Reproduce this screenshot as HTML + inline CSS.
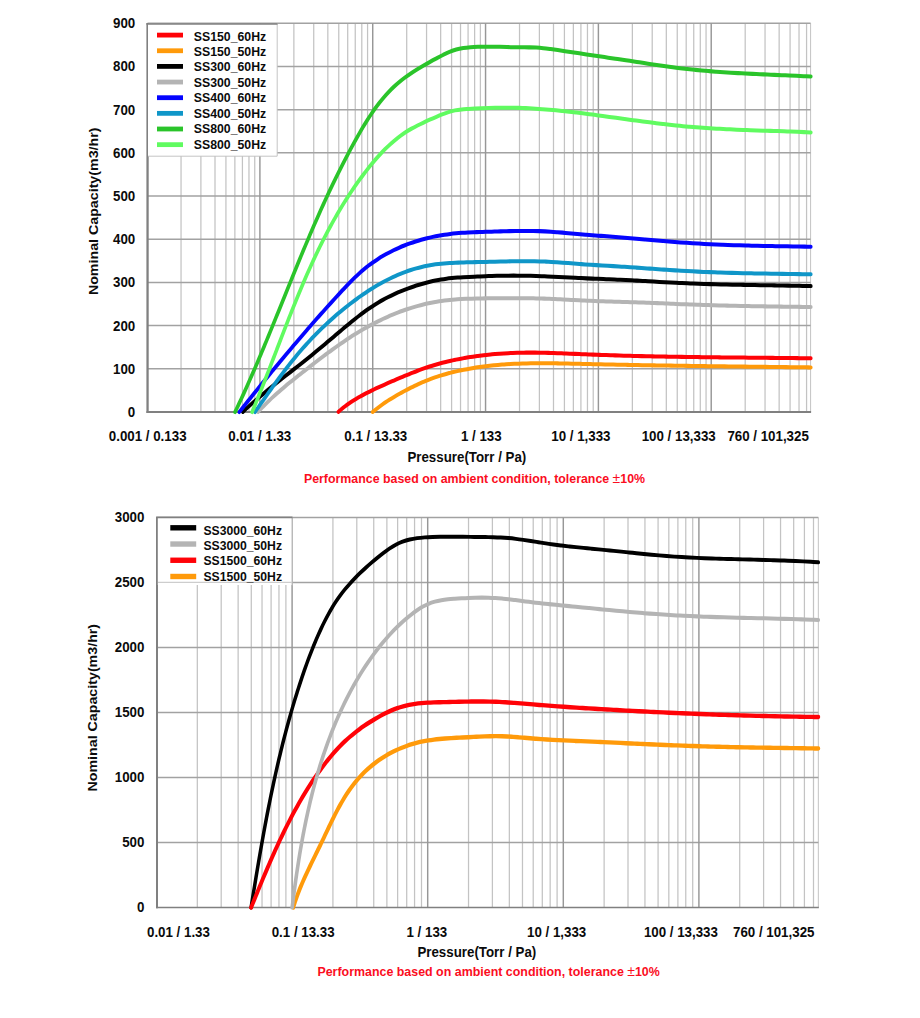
<!DOCTYPE html>
<html lang="en"><head><meta charset="utf-8"><title>Pump performance curves</title>
<style>html,body{margin:0;padding:0;background:#fff}svg{display:block}</style></head>
<body>
<svg width="920" height="1018" viewBox="0 0 920 1018" font-family="'Liberation Sans', sans-serif" font-weight="bold">
<rect width="920" height="1018" fill="#fff"/>
<g>
<line x1="181.04" x2="181.04" y1="23.30" y2="412.00" stroke="#c3c3c3" stroke-width="1.25"/>
<line x1="200.90" x2="200.90" y1="23.30" y2="412.00" stroke="#c3c3c3" stroke-width="1.25"/>
<line x1="215.00" x2="215.00" y1="23.30" y2="412.00" stroke="#c3c3c3" stroke-width="1.25"/>
<line x1="225.93" x2="225.93" y1="23.30" y2="412.00" stroke="#c3c3c3" stroke-width="1.25"/>
<line x1="234.87" x2="234.87" y1="23.30" y2="412.00" stroke="#c3c3c3" stroke-width="1.25"/>
<line x1="242.42" x2="242.42" y1="23.30" y2="412.00" stroke="#c3c3c3" stroke-width="1.25"/>
<line x1="248.97" x2="248.97" y1="23.30" y2="412.00" stroke="#c3c3c3" stroke-width="1.25"/>
<line x1="254.74" x2="254.74" y1="23.30" y2="412.00" stroke="#c3c3c3" stroke-width="1.25"/>
<line x1="293.87" x2="293.87" y1="23.30" y2="412.00" stroke="#c3c3c3" stroke-width="1.25"/>
<line x1="313.73" x2="313.73" y1="23.30" y2="412.00" stroke="#c3c3c3" stroke-width="1.25"/>
<line x1="327.83" x2="327.83" y1="23.30" y2="412.00" stroke="#c3c3c3" stroke-width="1.25"/>
<line x1="338.76" x2="338.76" y1="23.30" y2="412.00" stroke="#c3c3c3" stroke-width="1.25"/>
<line x1="347.70" x2="347.70" y1="23.30" y2="412.00" stroke="#c3c3c3" stroke-width="1.25"/>
<line x1="355.25" x2="355.25" y1="23.30" y2="412.00" stroke="#c3c3c3" stroke-width="1.25"/>
<line x1="361.80" x2="361.80" y1="23.30" y2="412.00" stroke="#c3c3c3" stroke-width="1.25"/>
<line x1="367.57" x2="367.57" y1="23.30" y2="412.00" stroke="#c3c3c3" stroke-width="1.25"/>
<line x1="406.70" x2="406.70" y1="23.30" y2="412.00" stroke="#c3c3c3" stroke-width="1.25"/>
<line x1="426.56" x2="426.56" y1="23.30" y2="412.00" stroke="#c3c3c3" stroke-width="1.25"/>
<line x1="440.66" x2="440.66" y1="23.30" y2="412.00" stroke="#c3c3c3" stroke-width="1.25"/>
<line x1="451.59" x2="451.59" y1="23.30" y2="412.00" stroke="#c3c3c3" stroke-width="1.25"/>
<line x1="460.53" x2="460.53" y1="23.30" y2="412.00" stroke="#c3c3c3" stroke-width="1.25"/>
<line x1="468.08" x2="468.08" y1="23.30" y2="412.00" stroke="#c3c3c3" stroke-width="1.25"/>
<line x1="474.63" x2="474.63" y1="23.30" y2="412.00" stroke="#c3c3c3" stroke-width="1.25"/>
<line x1="480.40" x2="480.40" y1="23.30" y2="412.00" stroke="#c3c3c3" stroke-width="1.25"/>
<line x1="519.53" x2="519.53" y1="23.30" y2="412.00" stroke="#c3c3c3" stroke-width="1.25"/>
<line x1="539.39" x2="539.39" y1="23.30" y2="412.00" stroke="#c3c3c3" stroke-width="1.25"/>
<line x1="553.49" x2="553.49" y1="23.30" y2="412.00" stroke="#c3c3c3" stroke-width="1.25"/>
<line x1="564.42" x2="564.42" y1="23.30" y2="412.00" stroke="#c3c3c3" stroke-width="1.25"/>
<line x1="573.36" x2="573.36" y1="23.30" y2="412.00" stroke="#c3c3c3" stroke-width="1.25"/>
<line x1="580.91" x2="580.91" y1="23.30" y2="412.00" stroke="#c3c3c3" stroke-width="1.25"/>
<line x1="587.46" x2="587.46" y1="23.30" y2="412.00" stroke="#c3c3c3" stroke-width="1.25"/>
<line x1="593.23" x2="593.23" y1="23.30" y2="412.00" stroke="#c3c3c3" stroke-width="1.25"/>
<line x1="632.36" x2="632.36" y1="23.30" y2="412.00" stroke="#c3c3c3" stroke-width="1.25"/>
<line x1="652.22" x2="652.22" y1="23.30" y2="412.00" stroke="#c3c3c3" stroke-width="1.25"/>
<line x1="666.32" x2="666.32" y1="23.30" y2="412.00" stroke="#c3c3c3" stroke-width="1.25"/>
<line x1="677.25" x2="677.25" y1="23.30" y2="412.00" stroke="#c3c3c3" stroke-width="1.25"/>
<line x1="686.19" x2="686.19" y1="23.30" y2="412.00" stroke="#c3c3c3" stroke-width="1.25"/>
<line x1="693.74" x2="693.74" y1="23.30" y2="412.00" stroke="#c3c3c3" stroke-width="1.25"/>
<line x1="700.29" x2="700.29" y1="23.30" y2="412.00" stroke="#c3c3c3" stroke-width="1.25"/>
<line x1="706.06" x2="706.06" y1="23.30" y2="412.00" stroke="#c3c3c3" stroke-width="1.25"/>
<line x1="745.19" x2="745.19" y1="23.30" y2="412.00" stroke="#c3c3c3" stroke-width="1.25"/>
<line x1="765.05" x2="765.05" y1="23.30" y2="412.00" stroke="#c3c3c3" stroke-width="1.25"/>
<line x1="779.15" x2="779.15" y1="23.30" y2="412.00" stroke="#c3c3c3" stroke-width="1.25"/>
<line x1="790.08" x2="790.08" y1="23.30" y2="412.00" stroke="#c3c3c3" stroke-width="1.25"/>
<line x1="799.02" x2="799.02" y1="23.30" y2="412.00" stroke="#c3c3c3" stroke-width="1.25"/>
<line x1="806.57" x2="806.57" y1="23.30" y2="412.00" stroke="#c3c3c3" stroke-width="1.25"/>
<line x1="810.60" x2="810.60" y1="23.30" y2="412.00" stroke="#c3c3c3" stroke-width="1"/>
<line x1="147.50" x2="810.60" y1="23.30" y2="23.30" stroke="#a2a2a2" stroke-width="1.5"/>
<line x1="147.50" x2="810.60" y1="66.49" y2="66.49" stroke="#a2a2a2" stroke-width="1.5"/>
<line x1="147.50" x2="810.60" y1="109.68" y2="109.68" stroke="#a2a2a2" stroke-width="1.5"/>
<line x1="147.50" x2="810.60" y1="152.87" y2="152.87" stroke="#a2a2a2" stroke-width="1.5"/>
<line x1="147.50" x2="810.60" y1="196.06" y2="196.06" stroke="#a2a2a2" stroke-width="1.5"/>
<line x1="147.50" x2="810.60" y1="239.24" y2="239.24" stroke="#a2a2a2" stroke-width="1.5"/>
<line x1="147.50" x2="810.60" y1="282.43" y2="282.43" stroke="#a2a2a2" stroke-width="1.5"/>
<line x1="147.50" x2="810.60" y1="325.62" y2="325.62" stroke="#a2a2a2" stroke-width="1.5"/>
<line x1="147.50" x2="810.60" y1="368.81" y2="368.81" stroke="#a2a2a2" stroke-width="1.5"/>
<line x1="259.90" x2="259.90" y1="23.30" y2="412.00" stroke="#979797" stroke-width="1.45"/>
<line x1="372.73" x2="372.73" y1="23.30" y2="412.00" stroke="#979797" stroke-width="1.45"/>
<line x1="485.56" x2="485.56" y1="23.30" y2="412.00" stroke="#979797" stroke-width="1.45"/>
<line x1="598.39" x2="598.39" y1="23.30" y2="412.00" stroke="#979797" stroke-width="1.45"/>
<line x1="711.22" x2="711.22" y1="23.30" y2="412.00" stroke="#979797" stroke-width="1.45"/>
</g>
<line x1="147.55" x2="147.55" y1="23.00" y2="413.00" stroke="#808080" stroke-width="2.3"/>
<line x1="146.5" x2="811.10" y1="411.9" y2="411.9" stroke="#808080" stroke-width="2"/>
<clipPath id="cp1"><rect x="140" y="0" width="674.60" height="416"/></clipPath>
<g clip-path="url(#cp1)"><g transform="scale(1,1.12)">
<path d="M338.40,367.69 C338.97,367.26 340.66,365.93 341.82,365.09 C342.97,364.25 344.14,363.43 345.33,362.64 C346.52,361.84 347.72,361.07 348.94,360.32 C350.15,359.56 351.38,358.83 352.62,358.12 C353.86,357.40 355.12,356.71 356.38,356.03 C357.65,355.35 358.92,354.69 360.21,354.04 C361.49,353.39 362.79,352.76 364.09,352.13 C365.40,351.51 366.71,350.91 368.03,350.31 C369.35,349.71 370.68,349.13 372.01,348.55 C373.34,347.97 374.68,347.40 376.02,346.84 C377.37,346.28 378.72,345.73 380.07,345.18 C381.42,344.64 382.78,344.09 384.13,343.56 C385.49,343.02 386.85,342.48 388.21,341.95 C389.57,341.42 390.93,340.89 392.30,340.36 C393.66,339.83 395.03,339.31 396.39,338.79 C397.76,338.27 399.13,337.75 400.49,337.23 C401.86,336.72 403.24,336.21 404.61,335.70 C405.98,335.20 407.35,334.69 408.73,334.20 C410.11,333.70 411.48,333.20 412.86,332.72 C414.24,332.23 415.62,331.74 417.01,331.27 C418.39,330.79 419.78,330.32 421.17,329.86 C422.56,329.40 423.95,328.95 425.35,328.51 C426.75,328.08 428.15,327.66 429.56,327.25 C430.96,326.84 432.38,326.45 433.80,326.07 C435.21,325.69 436.63,325.32 438.06,324.96 C439.49,324.61 440.92,324.27 442.35,323.94 C443.78,323.61 445.22,323.29 446.66,322.98 C448.10,322.67 449.54,322.37 450.99,322.08 C452.44,321.80 453.88,321.52 455.34,321.25 C456.79,320.98 458.24,320.72 459.70,320.47 C461.15,320.22 462.61,319.98 464.07,319.74 C465.53,319.51 466.99,319.29 468.46,319.07 C469.92,318.86 471.39,318.65 472.85,318.45 C474.32,318.26 475.79,318.07 477.26,317.89 C478.73,317.71 480.20,317.54 481.68,317.38 C483.15,317.21 484.63,317.06 486.10,316.91 C487.58,316.77 489.06,316.63 490.54,316.50 C492.02,316.37 493.49,316.25 494.98,316.13 C496.46,316.02 497.94,315.91 499.42,315.81 C500.90,315.71 502.38,315.62 503.87,315.54 C505.35,315.46 506.83,315.38 508.31,315.32 C509.80,315.25 511.28,315.19 512.77,315.13 C514.25,315.08 515.73,315.03 517.22,314.99 C518.70,314.96 520.19,314.92 521.67,314.90 C523.15,314.87 524.64,314.86 526.12,314.84 C527.60,314.83 529.08,314.83 530.57,314.83 C532.05,314.83 533.53,314.83 535.01,314.84 C536.50,314.85 537.98,314.87 539.46,314.89 C540.94,314.91 542.43,314.93 543.91,314.96 C545.39,314.99 546.87,315.02 548.35,315.06 C549.83,315.09 551.32,315.13 552.80,315.18 C554.28,315.22 555.76,315.26 557.24,315.31 C558.72,315.36 560.21,315.41 561.69,315.46 C563.17,315.51 564.65,315.57 566.13,315.62 C567.61,315.67 569.09,315.73 570.57,315.79 C572.06,315.84 573.54,315.90 575.02,315.96 C576.50,316.01 577.98,316.07 579.46,316.13 C580.94,316.19 582.43,316.24 583.91,316.30 C585.39,316.35 586.87,316.41 588.35,316.46 C589.83,316.51 591.32,316.57 592.80,316.62 C594.28,316.67 595.76,316.72 597.24,316.77 C598.72,316.82 600.21,316.87 601.69,316.91 C603.17,316.96 604.65,317.01 606.13,317.05 C607.62,317.10 609.10,317.14 610.58,317.18 C612.06,317.23 613.55,317.27 615.03,317.31 C616.51,317.35 617.99,317.39 619.47,317.43 C620.96,317.47 622.44,317.51 623.92,317.55 C625.40,317.58 626.89,317.62 628.37,317.66 C629.85,317.69 631.34,317.73 632.82,317.76 C634.30,317.80 635.78,317.83 637.27,317.86 C638.75,317.90 640.23,317.93 641.71,317.96 C643.20,317.99 644.68,318.02 646.16,318.05 C647.65,318.08 649.13,318.11 650.61,318.14 C652.09,318.17 653.58,318.19 655.06,318.22 C656.54,318.25 658.03,318.27 659.51,318.30 C660.99,318.33 662.48,318.35 663.96,318.38 C665.44,318.40 666.93,318.42 668.41,318.45 C669.89,318.47 671.38,318.49 672.86,318.52 C674.34,318.54 675.83,318.56 677.31,318.58 C678.79,318.60 680.27,318.62 681.76,318.64 C683.24,318.66 684.72,318.68 686.21,318.70 C687.69,318.72 689.18,318.74 690.66,318.76 C692.14,318.78 693.63,318.80 695.11,318.82 C696.59,318.83 698.08,318.85 699.56,318.87 C701.04,318.88 702.53,318.90 704.01,318.92 C705.49,318.93 706.98,318.95 708.46,318.96 C709.94,318.98 711.43,319.00 712.91,319.01 C714.39,319.03 715.88,319.04 717.36,319.05 C718.84,319.07 720.33,319.08 721.81,319.10 C723.29,319.11 724.78,319.12 726.26,319.14 C727.74,319.15 729.23,319.17 730.71,319.18 C732.20,319.19 733.68,319.21 735.16,319.22 C736.65,319.23 738.13,319.24 739.61,319.26 C741.10,319.27 742.58,319.28 744.06,319.29 C745.55,319.31 747.03,319.32 748.51,319.33 C750.00,319.34 751.48,319.36 752.96,319.37 C754.45,319.38 755.93,319.39 757.41,319.41 C758.90,319.42 760.38,319.43 761.86,319.44 C763.35,319.46 764.83,319.47 766.31,319.48 C767.80,319.49 769.28,319.51 770.76,319.52 C772.24,319.53 773.73,319.54 775.21,319.56 C776.69,319.57 778.18,319.58 779.66,319.60 C781.14,319.61 782.63,319.62 784.11,319.64 C785.59,319.65 787.08,319.66 788.56,319.68 C790.04,319.69 791.52,319.71 793.01,319.72 C794.49,319.73 795.97,319.75 797.46,319.76 C798.94,319.78 800.42,319.79 801.90,319.81 C803.39,319.83 804.87,319.84 806.35,319.86 C807.83,319.87 810.06,319.90 810.80,319.91" fill="none" stroke="#ff0207" stroke-width="3.6" stroke-linejoin="round" stroke-linecap="round"/>
<path d="M372.75,367.81 C373.28,367.42 374.86,366.25 375.93,365.49 C377.00,364.73 378.09,363.98 379.19,363.25 C380.29,362.52 381.40,361.80 382.52,361.09 C383.64,360.39 384.77,359.69 385.91,359.01 C387.05,358.33 388.20,357.66 389.36,357.00 C390.52,356.35 391.69,355.70 392.86,355.06 C394.04,354.42 395.22,353.80 396.41,353.18 C397.60,352.56 398.80,351.95 400.00,351.35 C401.20,350.75 402.40,350.16 403.61,349.57 C404.82,348.99 406.04,348.41 407.25,347.84 C408.47,347.27 409.69,346.71 410.92,346.16 C412.14,345.60 413.37,345.05 414.60,344.52 C415.84,343.98 417.07,343.46 418.32,342.94 C419.56,342.43 420.81,341.93 422.06,341.44 C423.32,340.95 424.57,340.47 425.84,340.01 C427.11,339.55 428.38,339.10 429.66,338.67 C430.93,338.24 432.22,337.82 433.51,337.41 C434.80,337.01 436.10,336.61 437.40,336.23 C438.70,335.85 440.01,335.48 441.32,335.13 C442.63,334.77 443.95,334.42 445.28,334.09 C446.60,333.75 447.93,333.43 449.26,333.11 C450.59,332.80 451.92,332.50 453.26,332.20 C454.60,331.91 455.94,331.63 457.28,331.35 C458.63,331.08 459.98,330.82 461.32,330.56 C462.67,330.31 464.02,330.06 465.38,329.83 C466.73,329.59 468.08,329.37 469.44,329.15 C470.79,328.94 472.14,328.73 473.50,328.53 C474.86,328.33 476.21,328.14 477.57,327.96 C478.93,327.78 480.28,327.61 481.64,327.44 C483.00,327.28 484.36,327.12 485.72,326.97 C487.08,326.82 488.44,326.68 489.80,326.55 C491.16,326.41 492.53,326.28 493.89,326.16 C495.25,326.04 496.61,325.93 497.98,325.83 C499.34,325.72 500.71,325.62 502.07,325.53 C503.44,325.44 504.80,325.35 506.17,325.27 C507.53,325.19 508.90,325.11 510.27,325.05 C511.63,324.98 513.00,324.91 514.37,324.86 C515.74,324.80 517.11,324.75 518.47,324.70 C519.84,324.65 521.21,324.61 522.58,324.57 C523.95,324.54 525.32,324.50 526.69,324.47 C528.06,324.45 529.43,324.42 530.81,324.40 C532.18,324.38 533.55,324.37 534.92,324.36 C536.29,324.34 537.66,324.34 539.04,324.33 C540.41,324.33 541.78,324.32 543.15,324.33 C544.53,324.33 545.90,324.33 547.27,324.34 C548.65,324.35 550.02,324.36 551.39,324.37 C552.77,324.38 554.14,324.40 555.51,324.41 C556.89,324.43 558.26,324.45 559.64,324.47 C561.01,324.49 562.38,324.51 563.76,324.54 C565.13,324.56 566.51,324.59 567.88,324.61 C569.26,324.64 570.63,324.67 572.00,324.69 C573.38,324.72 574.75,324.75 576.13,324.78 C577.50,324.81 578.88,324.84 580.25,324.87 C581.62,324.90 583.00,324.93 584.37,324.96 C585.75,324.98 587.12,325.01 588.49,325.04 C589.87,325.07 591.24,325.10 592.62,325.13 C593.99,325.16 595.36,325.18 596.74,325.21 C598.11,325.24 599.48,325.27 600.86,325.29 C602.23,325.32 603.60,325.35 604.98,325.37 C606.35,325.40 607.72,325.43 609.10,325.45 C610.47,325.48 611.84,325.50 613.21,325.53 C614.59,325.55 615.96,325.58 617.33,325.60 C618.71,325.63 620.08,325.65 621.45,325.68 C622.82,325.70 624.20,325.73 625.57,325.75 C626.94,325.77 628.31,325.80 629.68,325.82 C631.06,325.84 632.43,325.87 633.80,325.89 C635.17,325.91 636.55,325.94 637.92,325.96 C639.29,325.98 640.66,326.00 642.03,326.02 C643.41,326.05 644.78,326.07 646.15,326.09 C647.52,326.11 648.89,326.13 650.26,326.15 C651.64,326.17 653.01,326.19 654.38,326.22 C655.75,326.24 657.12,326.26 658.49,326.28 C659.87,326.30 661.24,326.32 662.61,326.34 C663.98,326.36 665.35,326.38 666.72,326.40 C668.09,326.42 669.47,326.43 670.84,326.45 C672.21,326.47 673.58,326.49 674.95,326.51 C676.32,326.53 677.69,326.55 679.07,326.57 C680.44,326.58 681.81,326.60 683.18,326.62 C684.55,326.64 685.92,326.66 687.29,326.68 C688.67,326.69 690.04,326.71 691.41,326.73 C692.78,326.75 694.15,326.76 695.52,326.78 C696.89,326.80 698.26,326.81 699.64,326.83 C701.01,326.85 702.38,326.87 703.75,326.88 C705.12,326.90 706.49,326.91 707.86,326.93 C709.24,326.95 710.61,326.96 711.98,326.98 C713.35,327.00 714.72,327.01 716.09,327.03 C717.46,327.04 718.84,327.06 720.21,327.08 C721.58,327.09 722.95,327.11 724.32,327.12 C725.69,327.14 727.06,327.15 728.44,327.17 C729.81,327.19 731.18,327.20 732.55,327.22 C733.92,327.23 735.29,327.25 736.67,327.26 C738.04,327.28 739.41,327.29 740.78,327.31 C742.15,327.32 743.52,327.34 744.90,327.35 C746.27,327.37 747.64,327.38 749.01,327.39 C750.38,327.41 751.76,327.42 753.13,327.44 C754.50,327.45 755.87,327.47 757.25,327.48 C758.62,327.50 759.99,327.51 761.36,327.53 C762.73,327.54 764.11,327.55 765.48,327.57 C766.85,327.58 768.22,327.60 769.60,327.61 C770.97,327.63 772.34,327.64 773.72,327.65 C775.09,327.67 776.46,327.68 777.83,327.70 C779.21,327.71 780.58,327.72 781.95,327.74 C783.33,327.75 784.70,327.77 786.07,327.78 C787.45,327.80 788.82,327.81 790.19,327.82 C791.57,327.84 792.94,327.85 794.31,327.87 C795.69,327.88 797.06,327.89 798.43,327.91 C799.81,327.92 801.18,327.94 802.56,327.95 C803.93,327.97 805.30,327.98 806.68,327.99 C808.05,328.01 810.11,328.03 810.80,328.04" fill="none" stroke="#ff9a0a" stroke-width="3.6" stroke-linejoin="round" stroke-linecap="round"/>
<path d="M257.96,367.82 C258.58,367.23 260.41,365.46 261.66,364.31 C262.91,363.15 264.17,362.01 265.45,360.88 C266.72,359.76 268.01,358.64 269.31,357.54 C270.61,356.44 271.92,355.34 273.25,354.26 C274.57,353.18 275.90,352.11 277.25,351.05 C278.59,349.99 279.95,348.94 281.31,347.90 C282.67,346.85 284.04,345.82 285.42,344.79 C286.79,343.76 288.18,342.74 289.57,341.73 C290.96,340.71 292.35,339.70 293.75,338.70 C295.15,337.69 296.56,336.69 297.97,335.69 C299.38,334.70 300.79,333.70 302.20,332.71 C303.62,331.72 305.03,330.73 306.45,329.74 C307.87,328.76 309.28,327.77 310.70,326.78 C312.12,325.80 313.54,324.81 314.97,323.83 C316.39,322.85 317.81,321.87 319.24,320.90 C320.67,319.92 322.10,318.95 323.53,317.98 C324.97,317.02 326.40,316.06 327.84,315.10 C329.29,314.14 330.73,313.19 332.19,312.25 C333.64,311.31 335.09,310.37 336.56,309.44 C338.02,308.51 339.49,307.59 340.97,306.68 C342.44,305.76 343.93,304.86 345.42,303.97 C346.91,303.07 348.41,302.19 349.91,301.32 C351.42,300.44 352.94,299.58 354.46,298.73 C355.98,297.88 357.52,297.04 359.06,296.22 C360.60,295.39 362.15,294.58 363.71,293.77 C365.26,292.97 366.83,292.19 368.40,291.41 C369.98,290.64 371.56,289.88 373.15,289.13 C374.74,288.39 376.34,287.66 377.95,286.94 C379.56,286.23 381.18,285.53 382.80,284.84 C384.43,284.16 386.06,283.49 387.70,282.84 C389.34,282.19 390.99,281.56 392.65,280.94 C394.30,280.33 395.97,279.73 397.64,279.15 C399.32,278.57 401.00,278.00 402.69,277.46 C404.38,276.92 406.08,276.39 407.78,275.89 C409.49,275.39 411.21,274.90 412.93,274.44 C414.65,273.97 416.38,273.53 418.11,273.11 C419.85,272.68 421.59,272.28 423.33,271.90 C425.08,271.52 426.83,271.16 428.59,270.82 C430.35,270.48 432.11,270.16 433.88,269.87 C435.65,269.58 437.42,269.30 439.19,269.05 C440.96,268.80 442.74,268.58 444.52,268.37 C446.30,268.17 448.09,267.98 449.87,267.82 C451.66,267.66 453.45,267.52 455.23,267.39 C457.02,267.26 458.81,267.16 460.61,267.06 C462.40,266.97 464.19,266.89 465.99,266.83 C467.78,266.76 469.58,266.70 471.38,266.66 C473.17,266.61 474.97,266.57 476.77,266.54 C478.57,266.50 480.37,266.48 482.16,266.45 C483.96,266.43 485.76,266.41 487.56,266.39 C489.36,266.36 491.16,266.34 492.95,266.32 C494.75,266.30 496.55,266.29 498.35,266.27 C500.14,266.26 501.94,266.24 503.74,266.23 C505.54,266.22 507.33,266.21 509.13,266.21 C510.93,266.20 512.72,266.20 514.52,266.20 C516.32,266.20 518.11,266.21 519.91,266.22 C521.71,266.23 523.50,266.24 525.30,266.26 C527.10,266.28 528.89,266.30 530.69,266.33 C532.48,266.35 534.28,266.39 536.07,266.43 C537.87,266.47 539.66,266.51 541.46,266.56 C543.25,266.61 545.05,266.67 546.84,266.73 C548.64,266.80 550.43,266.86 552.23,266.94 C554.02,267.01 555.82,267.08 557.61,267.16 C559.40,267.24 561.20,267.32 562.99,267.40 C564.79,267.48 566.58,267.57 568.37,267.65 C570.17,267.74 571.96,267.82 573.76,267.90 C575.55,267.99 577.34,268.07 579.14,268.15 C580.93,268.23 582.73,268.31 584.52,268.39 C586.32,268.46 588.11,268.54 589.91,268.60 C591.70,268.67 593.49,268.74 595.29,268.80 C597.08,268.86 598.88,268.92 600.67,268.98 C602.47,269.03 604.26,269.08 606.06,269.14 C607.85,269.19 609.65,269.23 611.45,269.28 C613.24,269.33 615.04,269.37 616.83,269.42 C618.63,269.46 620.42,269.51 622.22,269.56 C624.01,269.61 625.81,269.65 627.61,269.70 C629.40,269.75 631.20,269.80 632.99,269.85 C634.79,269.91 636.58,269.96 638.38,270.01 C640.17,270.07 641.97,270.12 643.76,270.18 C645.56,270.24 647.35,270.30 649.15,270.36 C650.95,270.42 652.74,270.48 654.54,270.55 C656.33,270.61 658.13,270.68 659.92,270.74 C661.72,270.81 663.51,270.88 665.31,270.95 C667.10,271.01 668.90,271.08 670.69,271.15 C672.49,271.22 674.28,271.29 676.08,271.36 C677.87,271.42 679.67,271.49 681.47,271.56 C683.26,271.62 685.06,271.69 686.85,271.75 C688.65,271.81 690.44,271.87 692.24,271.93 C694.03,271.99 695.83,272.04 697.63,272.10 C699.42,272.15 701.22,272.21 703.01,272.26 C704.81,272.31 706.60,272.36 708.40,272.41 C710.20,272.46 711.99,272.51 713.79,272.55 C715.58,272.60 717.38,272.64 719.18,272.69 C720.97,272.73 722.77,272.77 724.57,272.81 C726.36,272.85 728.16,272.89 729.95,272.93 C731.75,272.97 733.55,273.01 735.34,273.04 C737.14,273.08 738.94,273.11 740.73,273.15 C742.53,273.18 744.33,273.21 746.12,273.24 C747.92,273.28 749.71,273.31 751.51,273.34 C753.31,273.37 755.10,273.39 756.90,273.42 C758.70,273.45 760.49,273.48 762.29,273.51 C764.09,273.53 765.88,273.56 767.68,273.58 C769.48,273.61 771.27,273.63 773.07,273.66 C774.87,273.68 776.66,273.71 778.46,273.73 C780.26,273.75 782.05,273.77 783.85,273.80 C785.65,273.82 787.44,273.84 789.24,273.86 C791.04,273.88 792.83,273.90 794.63,273.92 C796.43,273.95 798.22,273.97 800.02,273.99 C801.82,274.01 803.61,274.03 805.41,274.05 C807.21,274.07 809.90,274.10 810.80,274.11" fill="none" stroke="#b4b4b4" stroke-width="3.6" stroke-linejoin="round" stroke-linecap="round"/>
<path d="M242.94,367.79 C243.62,367.22 245.65,365.48 247.02,364.34 C248.39,363.20 249.77,362.08 251.16,360.96 C252.55,359.84 253.94,358.73 255.35,357.63 C256.76,356.53 258.17,355.44 259.59,354.36 C261.01,353.27 262.44,352.20 263.88,351.13 C265.31,350.06 266.75,349.00 268.20,347.94 C269.64,346.88 271.09,345.83 272.55,344.78 C274.00,343.73 275.46,342.69 276.93,341.65 C278.39,340.61 279.85,339.57 281.32,338.54 C282.79,337.50 284.26,336.47 285.73,335.44 C287.20,334.41 288.67,333.38 290.15,332.35 C291.62,331.32 293.09,330.29 294.56,329.26 C296.03,328.23 297.51,327.20 298.97,326.17 C300.44,325.13 301.91,324.10 303.38,323.06 C304.84,322.02 306.30,320.98 307.76,319.93 C309.22,318.88 310.67,317.83 312.12,316.78 C313.57,315.72 315.02,314.66 316.46,313.60 C317.90,312.53 319.34,311.46 320.77,310.39 C322.21,309.32 323.64,308.24 325.07,307.17 C326.50,306.09 327.93,305.01 329.36,303.93 C330.79,302.85 332.21,301.77 333.64,300.69 C335.07,299.61 336.49,298.53 337.92,297.45 C339.35,296.37 340.78,295.29 342.21,294.21 C343.64,293.13 345.07,292.06 346.51,290.99 C347.95,289.92 349.38,288.85 350.83,287.79 C352.28,286.73 353.72,285.67 355.19,284.64 C356.65,283.60 358.12,282.57 359.61,281.56 C361.09,280.55 362.59,279.56 364.10,278.58 C365.61,277.60 367.13,276.64 368.67,275.70 C370.20,274.76 371.75,273.84 373.32,272.94 C374.88,272.03 376.46,271.15 378.05,270.29 C379.65,269.43 381.25,268.59 382.88,267.78 C384.50,266.97 386.14,266.18 387.80,265.41 C389.46,264.65 391.14,263.91 392.83,263.19 C394.52,262.48 396.23,261.79 397.95,261.12 C399.67,260.46 401.40,259.82 403.15,259.20 C404.90,258.58 406.66,257.99 408.42,257.42 C410.19,256.84 411.97,256.30 413.76,255.77 C415.54,255.24 417.34,254.74 419.14,254.26 C420.94,253.77 422.74,253.31 424.55,252.87 C426.36,252.43 428.18,252.01 429.99,251.61 C431.81,251.21 433.63,250.83 435.46,250.49 C437.28,250.15 439.11,249.83 440.95,249.56 C442.79,249.28 444.63,249.04 446.48,248.83 C448.32,248.61 450.17,248.44 452.03,248.27 C453.88,248.11 455.74,247.98 457.60,247.86 C459.46,247.73 461.33,247.63 463.19,247.54 C465.06,247.44 466.93,247.35 468.80,247.27 C470.66,247.18 472.53,247.10 474.40,247.02 C476.27,246.95 478.14,246.87 480.01,246.80 C481.88,246.73 483.75,246.66 485.62,246.60 C487.49,246.54 489.37,246.48 491.24,246.43 C493.11,246.38 494.98,246.33 496.85,246.29 C498.72,246.25 500.60,246.22 502.47,246.19 C504.34,246.16 506.21,246.14 508.08,246.13 C509.96,246.11 511.83,246.10 513.70,246.10 C515.57,246.10 517.44,246.11 519.31,246.12 C521.18,246.14 523.05,246.16 524.92,246.19 C526.79,246.22 528.66,246.26 530.53,246.30 C532.40,246.35 534.27,246.40 536.13,246.45 C538.00,246.51 539.87,246.57 541.74,246.64 C543.61,246.70 545.47,246.77 547.34,246.84 C549.21,246.92 551.08,246.99 552.94,247.07 C554.81,247.15 556.68,247.23 558.55,247.31 C560.41,247.40 562.28,247.48 564.15,247.56 C566.01,247.65 567.88,247.73 569.75,247.82 C571.61,247.90 573.48,247.99 575.35,248.07 C577.22,248.15 579.08,248.24 580.95,248.31 C582.82,248.39 584.69,248.47 586.55,248.54 C588.42,248.62 590.29,248.69 592.16,248.76 C594.03,248.83 595.89,248.90 597.76,248.96 C599.63,249.03 601.50,249.10 603.37,249.16 C605.24,249.23 607.10,249.30 608.97,249.36 C610.84,249.43 612.71,249.50 614.58,249.57 C616.45,249.64 618.31,249.72 620.18,249.80 C622.05,249.87 623.92,249.95 625.79,250.04 C627.65,250.12 629.52,250.20 631.39,250.29 C633.26,250.38 635.12,250.47 636.99,250.56 C638.86,250.65 640.72,250.74 642.59,250.84 C644.46,250.93 646.32,251.03 648.19,251.12 C650.06,251.21 651.93,251.31 653.79,251.40 C655.66,251.50 657.53,251.59 659.39,251.69 C661.26,251.78 663.13,251.87 664.99,251.97 C666.86,252.06 668.73,252.15 670.60,252.24 C672.46,252.32 674.33,252.41 676.20,252.49 C678.07,252.58 679.93,252.66 681.80,252.74 C683.67,252.82 685.54,252.89 687.40,252.96 C689.27,253.03 691.14,253.10 693.01,253.17 C694.88,253.23 696.75,253.29 698.62,253.35 C700.48,253.41 702.35,253.47 704.22,253.52 C706.09,253.57 707.96,253.63 709.83,253.67 C711.70,253.72 713.57,253.77 715.44,253.81 C717.31,253.86 719.18,253.90 721.05,253.94 C722.92,253.98 724.79,254.02 726.66,254.05 C728.53,254.09 730.40,254.13 732.27,254.16 C734.14,254.19 736.01,254.23 737.88,254.26 C739.75,254.29 741.62,254.32 743.49,254.35 C745.36,254.38 747.23,254.40 749.10,254.43 C750.97,254.46 752.84,254.49 754.71,254.51 C756.58,254.54 758.45,254.57 760.32,254.59 C762.19,254.62 764.06,254.64 765.93,254.67 C767.80,254.70 769.67,254.72 771.54,254.75 C773.41,254.78 775.28,254.80 777.15,254.83 C779.02,254.86 780.89,254.89 782.76,254.92 C784.63,254.94 786.50,254.97 788.37,255.01 C790.24,255.04 792.11,255.07 793.98,255.10 C795.85,255.14 797.72,255.17 799.59,255.21 C801.46,255.24 803.32,255.28 805.19,255.32 C807.06,255.36 809.87,255.43 810.80,255.45" fill="none" stroke="#000000" stroke-width="3.6" stroke-linejoin="round" stroke-linecap="round"/>
<path d="M254.98,367.86 C255.52,367.18 257.14,365.12 258.21,363.75 C259.29,362.37 260.37,361.00 261.45,359.62 C262.53,358.24 263.61,356.87 264.69,355.49 C265.78,354.11 266.86,352.73 267.95,351.36 C269.04,349.98 270.13,348.61 271.23,347.24 C272.33,345.86 273.43,344.49 274.54,343.12 C275.64,341.76 276.75,340.39 277.87,339.03 C278.99,337.67 280.11,336.31 281.24,334.96 C282.37,333.61 283.50,332.26 284.65,330.92 C285.79,329.58 286.94,328.24 288.10,326.92 C289.26,325.59 290.43,324.26 291.61,322.95 C292.78,321.64 293.97,320.33 295.16,319.03 C296.36,317.74 297.57,316.45 298.78,315.17 C300.00,313.89 301.23,312.62 302.46,311.36 C303.70,310.10 304.95,308.85 306.21,307.61 C307.47,306.36 308.74,305.13 310.02,303.91 C311.30,302.69 312.59,301.47 313.90,300.27 C315.20,299.07 316.51,297.88 317.84,296.69 C319.16,295.51 320.50,294.33 321.84,293.17 C323.19,292.00 324.55,290.85 325.92,289.71 C327.29,288.56 328.67,287.43 330.06,286.30 C331.45,285.18 332.85,284.06 334.27,282.95 C335.68,281.85 337.11,280.75 338.54,279.67 C339.98,278.58 341.43,277.51 342.89,276.44 C344.35,275.38 345.82,274.32 347.30,273.28 C348.79,272.23 350.28,271.19 351.79,270.17 C353.29,269.15 354.81,268.13 356.34,267.14 C357.87,266.14 359.41,265.15 360.96,264.18 C362.51,263.21 364.08,262.25 365.65,261.31 C367.23,260.37 368.81,259.45 370.41,258.54 C372.01,257.64 373.62,256.75 375.24,255.88 C376.86,255.01 378.49,254.16 380.13,253.34 C381.78,252.51 383.43,251.70 385.10,250.92 C386.76,250.14 388.44,249.38 390.13,248.64 C391.82,247.91 393.52,247.19 395.23,246.51 C396.94,245.82 398.66,245.16 400.39,244.53 C402.12,243.90 403.87,243.30 405.62,242.72 C407.38,242.15 409.14,241.60 410.92,241.09 C412.70,240.57 414.49,240.09 416.29,239.64 C418.09,239.19 419.90,238.77 421.72,238.38 C423.54,238.00 425.37,237.65 427.21,237.33 C429.06,237.02 430.91,236.74 432.77,236.49 C434.63,236.24 436.50,236.02 438.38,235.82 C440.25,235.63 442.13,235.46 444.02,235.31 C445.90,235.16 447.79,235.03 449.68,234.92 C451.56,234.80 453.45,234.71 455.34,234.62 C457.23,234.53 459.11,234.46 461.00,234.40 C462.89,234.33 464.77,234.28 466.66,234.23 C468.55,234.18 470.43,234.14 472.32,234.10 C474.20,234.06 476.09,234.03 477.97,233.99 C479.86,233.96 481.74,233.93 483.63,233.89 C485.51,233.86 487.40,233.82 489.28,233.78 C491.16,233.74 493.04,233.70 494.93,233.65 C496.81,233.61 498.69,233.57 500.57,233.53 C502.45,233.49 504.33,233.45 506.22,233.41 C508.10,233.37 509.98,233.34 511.86,233.31 C513.74,233.28 515.62,233.25 517.50,233.23 C519.38,233.21 521.26,233.20 523.14,233.19 C525.02,233.19 526.90,233.19 528.77,233.20 C530.65,233.21 532.53,233.23 534.41,233.26 C536.29,233.30 538.17,233.34 540.05,233.39 C541.93,233.45 543.81,233.52 545.69,233.59 C547.57,233.67 549.44,233.76 551.32,233.86 C553.20,233.96 555.08,234.07 556.96,234.18 C558.84,234.29 560.72,234.41 562.60,234.54 C564.48,234.66 566.36,234.79 568.24,234.92 C570.11,235.05 571.99,235.18 573.87,235.31 C575.75,235.44 577.63,235.57 579.51,235.70 C581.39,235.82 583.27,235.95 585.15,236.06 C587.02,236.18 588.90,236.30 590.78,236.41 C592.66,236.52 594.54,236.62 596.42,236.72 C598.30,236.83 600.18,236.93 602.05,237.03 C603.93,237.13 605.81,237.23 607.69,237.32 C609.57,237.42 611.45,237.52 613.32,237.62 C615.20,237.72 617.08,237.82 618.96,237.93 C620.84,238.03 622.71,238.14 624.59,238.25 C626.47,238.36 628.35,238.47 630.23,238.59 C632.10,238.70 633.98,238.82 635.86,238.94 C637.74,239.05 639.62,239.17 641.49,239.29 C643.37,239.41 645.25,239.53 647.13,239.66 C649.01,239.78 650.88,239.90 652.76,240.02 C654.64,240.14 656.52,240.26 658.40,240.38 C660.28,240.50 662.15,240.62 664.03,240.73 C665.91,240.85 667.79,240.96 669.67,241.08 C671.55,241.19 673.43,241.30 675.30,241.41 C677.18,241.51 679.06,241.62 680.94,241.72 C682.82,241.82 684.70,241.92 686.58,242.01 C688.46,242.11 690.34,242.20 692.22,242.28 C694.10,242.37 695.98,242.45 697.86,242.53 C699.74,242.61 701.62,242.69 703.51,242.76 C705.39,242.83 707.27,242.90 709.15,242.97 C711.03,243.04 712.91,243.10 714.79,243.16 C716.67,243.22 718.56,243.28 720.44,243.34 C722.32,243.39 724.20,243.44 726.08,243.50 C727.97,243.55 729.85,243.59 731.73,243.64 C733.61,243.69 735.49,243.73 737.38,243.77 C739.26,243.82 741.14,243.86 743.02,243.89 C744.91,243.93 746.79,243.97 748.67,244.01 C750.55,244.04 752.44,244.08 754.32,244.11 C756.20,244.14 758.09,244.17 759.97,244.20 C761.85,244.23 763.73,244.26 765.62,244.29 C767.50,244.32 769.38,244.35 771.27,244.37 C773.15,244.40 775.03,244.43 776.91,244.45 C778.80,244.48 780.68,244.50 782.56,244.53 C784.45,244.55 786.33,244.58 788.21,244.60 C790.09,244.63 791.98,244.65 793.86,244.68 C795.74,244.70 797.62,244.73 799.51,244.75 C801.39,244.78 803.27,244.80 805.15,244.83 C807.04,244.86 809.86,244.90 810.80,244.91" fill="none" stroke="#0f96c8" stroke-width="3.6" stroke-linejoin="round" stroke-linecap="round"/>
<path d="M239.32,367.86 C239.93,367.16 241.78,365.08 243.01,363.70 C244.24,362.32 245.47,360.93 246.71,359.55 C247.94,358.17 249.18,356.79 250.41,355.42 C251.65,354.04 252.88,352.66 254.12,351.29 C255.36,349.92 256.60,348.54 257.84,347.17 C259.08,345.80 260.32,344.43 261.56,343.06 C262.80,341.70 264.05,340.33 265.29,338.97 C266.54,337.60 267.78,336.24 269.03,334.88 C270.28,333.51 271.53,332.15 272.78,330.80 C274.03,329.44 275.28,328.08 276.54,326.73 C277.79,325.37 279.05,324.02 280.31,322.66 C281.57,321.31 282.83,319.96 284.09,318.61 C285.35,317.26 286.62,315.92 287.88,314.57 C289.15,313.22 290.42,311.88 291.69,310.54 C292.96,309.19 294.23,307.85 295.51,306.51 C296.79,305.17 298.06,303.84 299.34,302.50 C300.62,301.16 301.91,299.83 303.19,298.50 C304.48,297.16 305.77,295.83 307.06,294.50 C308.35,293.17 309.64,291.84 310.94,290.52 C312.23,289.19 313.53,287.86 314.83,286.54 C316.14,285.22 317.44,283.90 318.75,282.58 C320.06,281.25 321.37,279.94 322.68,278.62 C324.00,277.30 325.31,275.99 326.63,274.67 C327.95,273.36 329.28,272.05 330.61,270.73 C331.93,269.42 333.26,268.11 334.60,266.81 C335.93,265.50 337.27,264.19 338.61,262.89 C339.95,261.58 341.29,260.28 342.65,258.98 C344.00,257.69 345.35,256.39 346.72,255.11 C348.09,253.83 349.47,252.56 350.86,251.30 C352.26,250.05 353.66,248.80 355.09,247.58 C356.51,246.36 357.95,245.15 359.41,243.97 C360.87,242.79 362.35,241.63 363.86,240.51 C365.36,239.38 366.89,238.27 368.45,237.20 C370.00,236.14 371.59,235.10 373.19,234.09 C374.80,233.08 376.43,232.11 378.09,231.16 C379.74,230.21 381.42,229.30 383.12,228.41 C384.82,227.53 386.54,226.67 388.28,225.85 C390.02,225.02 391.78,224.23 393.55,223.46 C395.33,222.69 397.12,221.96 398.93,221.25 C400.74,220.54 402.56,219.86 404.40,219.21 C406.23,218.56 408.09,217.94 409.95,217.34 C411.81,216.75 413.69,216.18 415.57,215.64 C417.45,215.10 419.35,214.59 421.25,214.10 C423.15,213.62 425.06,213.16 426.98,212.72 C428.90,212.29 430.82,211.89 432.75,211.51 C434.68,211.13 436.61,210.78 438.55,210.46 C440.49,210.13 442.43,209.84 444.38,209.57 C446.33,209.30 448.28,209.06 450.24,208.84 C452.19,208.63 454.15,208.45 456.12,208.28 C458.08,208.12 460.04,207.99 462.01,207.87 C463.98,207.75 465.95,207.65 467.92,207.57 C469.89,207.48 471.86,207.41 473.83,207.34 C475.81,207.28 477.78,207.22 479.76,207.17 C481.73,207.11 483.71,207.06 485.68,207.01 C487.66,206.95 489.63,206.90 491.61,206.84 C493.58,206.78 495.56,206.72 497.53,206.66 C499.51,206.61 501.48,206.55 503.46,206.50 C505.43,206.45 507.41,206.40 509.38,206.36 C511.36,206.31 513.33,206.27 515.30,206.24 C517.28,206.21 519.25,206.19 521.22,206.18 C523.20,206.16 525.17,206.16 527.14,206.16 C529.11,206.17 531.09,206.19 533.06,206.22 C535.03,206.25 537.00,206.30 538.97,206.36 C540.94,206.42 542.91,206.50 544.88,206.59 C546.85,206.68 548.82,206.78 550.79,206.90 C552.76,207.01 554.72,207.14 556.69,207.28 C558.66,207.41 560.63,207.56 562.59,207.71 C564.56,207.86 566.53,208.02 568.50,208.17 C570.46,208.33 572.43,208.49 574.40,208.65 C576.36,208.81 578.33,208.97 580.30,209.13 C582.26,209.28 584.23,209.44 586.20,209.58 C588.17,209.73 590.13,209.87 592.10,210.01 C594.07,210.14 596.04,210.28 598.00,210.41 C599.97,210.54 601.94,210.67 603.91,210.80 C605.87,210.93 607.84,211.05 609.81,211.18 C611.78,211.31 613.74,211.44 615.71,211.58 C617.68,211.71 619.64,211.84 621.61,211.98 C623.58,212.12 625.54,212.27 627.51,212.41 C629.48,212.56 631.44,212.70 633.41,212.85 C635.38,213.00 637.34,213.16 639.31,213.31 C641.27,213.46 643.24,213.62 645.21,213.77 C647.17,213.93 649.14,214.08 651.11,214.24 C653.07,214.39 655.04,214.55 657.00,214.70 C658.97,214.85 660.94,215.00 662.90,215.15 C664.87,215.30 666.84,215.45 668.81,215.59 C670.77,215.74 672.74,215.88 674.71,216.02 C676.68,216.16 678.64,216.29 680.61,216.42 C682.58,216.55 684.55,216.68 686.52,216.80 C688.49,216.92 690.46,217.04 692.43,217.15 C694.40,217.26 696.37,217.37 698.34,217.47 C700.31,217.57 702.28,217.67 704.25,217.76 C706.22,217.86 708.19,217.95 710.16,218.03 C712.14,218.12 714.11,218.20 716.08,218.28 C718.05,218.36 720.02,218.43 722.00,218.50 C723.97,218.57 725.94,218.64 727.91,218.70 C729.89,218.77 731.86,218.83 733.83,218.89 C735.81,218.95 737.78,219.00 739.75,219.06 C741.73,219.11 743.70,219.16 745.67,219.21 C747.65,219.26 749.62,219.30 751.60,219.34 C753.57,219.39 755.54,219.43 757.52,219.47 C759.49,219.51 761.46,219.55 763.44,219.58 C765.41,219.62 767.39,219.65 769.36,219.69 C771.33,219.72 773.31,219.75 775.28,219.78 C777.26,219.81 779.23,219.84 781.20,219.87 C783.18,219.90 785.15,219.93 787.12,219.95 C789.10,219.98 791.07,220.01 793.04,220.03 C795.02,220.06 796.99,220.09 798.96,220.11 C800.94,220.14 802.91,220.16 804.88,220.19 C806.86,220.22 809.81,220.26 810.80,220.27" fill="none" stroke="#0404ff" stroke-width="3.6" stroke-linejoin="round" stroke-linecap="round"/>
<path d="M252.06,367.89 C252.49,366.97 253.78,364.21 254.64,362.37 C255.49,360.52 256.34,358.67 257.19,356.82 C258.03,354.97 258.87,353.11 259.71,351.25 C260.54,349.40 261.37,347.53 262.20,345.67 C263.03,343.81 263.85,341.94 264.67,340.08 C265.49,338.21 266.31,336.34 267.13,334.47 C267.94,332.60 268.76,330.73 269.57,328.86 C270.38,326.98 271.19,325.11 272.00,323.23 C272.81,321.36 273.62,319.48 274.42,317.60 C275.23,315.73 276.04,313.85 276.85,311.97 C277.65,310.09 278.46,308.22 279.27,306.34 C280.08,304.46 280.89,302.58 281.70,300.70 C282.51,298.83 283.32,296.95 284.14,295.07 C284.95,293.20 285.77,291.32 286.59,289.45 C287.41,287.57 288.23,285.70 289.06,283.83 C289.88,281.96 290.71,280.08 291.54,278.22 C292.38,276.35 293.21,274.48 294.06,272.61 C294.90,270.75 295.74,268.89 296.60,267.03 C297.45,265.17 298.30,263.31 299.17,261.45 C300.03,259.60 300.90,257.74 301.78,255.90 C302.65,254.05 303.53,252.20 304.42,250.36 C305.31,248.51 306.21,246.67 307.11,244.84 C308.02,243.00 308.93,241.17 309.85,239.34 C310.77,237.52 311.70,235.69 312.64,233.87 C313.58,232.05 314.53,230.24 315.49,228.43 C316.44,226.62 317.41,224.81 318.39,223.01 C319.37,221.21 320.35,219.42 321.35,217.63 C322.35,215.84 323.36,214.06 324.38,212.28 C325.41,210.50 326.44,208.73 327.48,206.96 C328.53,205.20 329.59,203.44 330.66,201.68 C331.73,199.93 332.81,198.18 333.91,196.44 C335.01,194.70 336.12,192.97 337.25,191.24 C338.37,189.51 339.51,187.79 340.67,186.08 C341.82,184.37 342.99,182.67 344.18,180.97 C345.36,179.27 346.56,177.58 347.78,175.90 C348.99,174.22 350.23,172.55 351.48,170.89 C352.73,169.22 353.99,167.57 355.27,165.92 C356.56,164.27 357.86,162.64 359.18,161.01 C360.50,159.38 361.83,157.76 363.19,156.15 C364.55,154.54 365.92,152.94 367.31,151.35 C368.71,149.76 370.12,148.18 371.56,146.62 C372.99,145.05 374.45,143.50 375.94,141.98 C377.42,140.46 378.93,138.95 380.46,137.48 C382.00,136.00 383.56,134.55 385.15,133.13 C386.75,131.71 388.37,130.32 390.03,128.98 C391.68,127.63 393.37,126.31 395.09,125.04 C396.82,123.77 398.57,122.54 400.37,121.36 C402.16,120.18 404.00,119.05 405.87,117.96 C407.74,116.88 409.66,115.86 411.60,114.87 C413.55,113.88 415.53,112.95 417.53,112.04 C419.53,111.13 421.56,110.26 423.59,109.40 C425.62,108.54 427.67,107.71 429.72,106.89 C431.77,106.07 433.83,105.26 435.90,104.48 C437.98,103.70 440.06,102.92 442.17,102.20 C444.27,101.47 446.38,100.74 448.52,100.14 C450.66,99.53 452.82,98.97 455.01,98.56 C457.19,98.14 459.41,97.89 461.63,97.67 C463.86,97.45 466.11,97.36 468.35,97.23 C470.59,97.11 472.84,97.01 475.08,96.91 C477.33,96.81 479.58,96.71 481.82,96.63 C484.07,96.55 486.32,96.47 488.57,96.41 C490.82,96.35 493.07,96.30 495.31,96.26 C497.56,96.21 499.81,96.19 502.06,96.17 C504.31,96.16 506.56,96.15 508.80,96.16 C511.05,96.18 513.30,96.20 515.55,96.25 C517.79,96.29 520.04,96.35 522.28,96.42 C524.52,96.50 526.77,96.59 529.01,96.69 C531.25,96.79 533.49,96.91 535.73,97.04 C537.97,97.17 540.21,97.32 542.45,97.47 C544.68,97.63 546.92,97.79 549.16,97.97 C551.39,98.15 553.63,98.33 555.86,98.53 C558.10,98.72 560.33,98.92 562.56,99.13 C564.79,99.34 567.02,99.56 569.26,99.79 C571.49,100.01 573.72,100.25 575.95,100.48 C578.18,100.72 580.41,100.97 582.63,101.21 C584.86,101.46 587.09,101.72 589.32,101.97 C591.55,102.23 593.77,102.49 596.00,102.76 C598.23,103.02 600.46,103.29 602.68,103.56 C604.91,103.83 607.14,104.10 609.36,104.37 C611.59,104.65 613.82,104.92 616.04,105.20 C618.27,105.47 620.49,105.75 622.72,106.02 C624.95,106.30 627.17,106.57 629.40,106.84 C631.63,107.11 633.85,107.39 636.08,107.65 C638.31,107.92 640.53,108.19 642.76,108.45 C644.99,108.71 647.22,108.97 649.45,109.23 C651.67,109.48 653.90,109.74 656.13,109.98 C658.36,110.23 660.59,110.47 662.82,110.70 C665.05,110.94 667.28,111.17 669.52,111.39 C671.75,111.61 673.98,111.82 676.21,112.03 C678.45,112.24 680.68,112.44 682.92,112.63 C685.15,112.81 687.39,113.00 689.63,113.17 C691.86,113.34 694.10,113.50 696.34,113.66 C698.58,113.81 700.82,113.96 703.06,114.10 C705.30,114.24 707.54,114.37 709.78,114.50 C712.02,114.63 714.27,114.75 716.51,114.86 C718.75,114.97 721.00,115.08 723.24,115.19 C725.48,115.29 727.73,115.39 729.97,115.48 C732.22,115.57 734.46,115.66 736.71,115.75 C738.95,115.84 741.20,115.92 743.45,116.00 C745.69,116.08 747.94,116.15 750.18,116.23 C752.43,116.30 754.68,116.37 756.92,116.44 C759.17,116.51 761.42,116.58 763.66,116.65 C765.91,116.72 768.15,116.79 770.40,116.86 C772.65,116.92 774.89,116.99 777.14,117.06 C779.38,117.13 781.63,117.20 783.88,117.27 C786.12,117.34 788.37,117.41 790.61,117.48 C792.86,117.56 795.10,117.63 797.34,117.71 C799.59,117.79 801.83,117.88 804.07,117.96 C806.31,118.05 809.68,118.19 810.80,118.23" fill="none" stroke="#60fb60" stroke-width="3.6" stroke-linejoin="round" stroke-linecap="round"/>
<path d="M235.07,367.88 C235.59,366.90 237.16,363.97 238.20,362.00 C239.23,360.04 240.25,358.07 241.27,356.11 C242.29,354.14 243.30,352.17 244.30,350.19 C245.31,348.22 246.30,346.24 247.29,344.27 C248.28,342.29 249.27,340.31 250.25,338.32 C251.22,336.34 252.20,334.36 253.16,332.37 C254.13,330.38 255.09,328.40 256.05,326.41 C257.01,324.42 257.96,322.42 258.91,320.43 C259.85,318.44 260.80,316.44 261.74,314.44 C262.68,312.45 263.61,310.45 264.54,308.45 C265.48,306.45 266.40,304.45 267.33,302.45 C268.26,300.45 269.18,298.45 270.10,296.44 C271.02,294.44 271.94,292.44 272.85,290.43 C273.77,288.43 274.69,286.42 275.60,284.41 C276.51,282.41 277.42,280.40 278.33,278.40 C279.24,276.39 280.15,274.38 281.06,272.37 C281.97,270.37 282.88,268.36 283.79,266.35 C284.70,264.35 285.60,262.34 286.51,260.33 C287.42,258.33 288.33,256.32 289.24,254.31 C290.15,252.31 291.06,250.30 291.98,248.30 C292.89,246.29 293.80,244.29 294.72,242.28 C295.64,240.28 296.56,238.28 297.48,236.27 C298.40,234.27 299.32,232.27 300.25,230.27 C301.17,228.27 302.10,226.27 303.03,224.28 C303.97,222.28 304.90,220.28 305.84,218.29 C306.78,216.29 307.73,214.30 308.67,212.31 C309.62,210.32 310.58,208.33 311.53,206.34 C312.49,204.35 313.45,202.37 314.42,200.38 C315.39,198.40 316.36,196.42 317.34,194.44 C318.32,192.46 319.30,190.48 320.29,188.50 C321.29,186.53 322.28,184.56 323.29,182.59 C324.29,180.62 325.30,178.65 326.32,176.69 C327.34,174.72 328.37,172.76 329.40,170.80 C330.43,168.84 331.47,166.89 332.52,164.93 C333.57,162.98 334.63,161.03 335.70,159.08 C336.76,157.14 337.84,155.20 338.92,153.26 C340.01,151.32 341.10,149.38 342.21,147.45 C343.31,145.52 344.42,143.59 345.55,141.66 C346.67,139.74 347.81,137.82 348.95,135.90 C350.10,133.98 351.25,132.07 352.42,130.16 C353.58,128.25 354.76,126.35 355.95,124.45 C357.14,122.55 358.34,120.65 359.56,118.76 C360.77,116.88 362.00,114.99 363.25,113.13 C364.51,111.26 365.77,109.40 367.07,107.57 C368.37,105.73 369.68,103.90 371.04,102.11 C372.39,100.31 373.76,98.53 375.18,96.78 C376.59,95.03 378.03,93.30 379.52,91.61 C381.00,89.92 382.53,88.26 384.09,86.63 C385.66,85.01 387.27,83.42 388.93,81.87 C390.59,80.32 392.29,78.81 394.05,77.35 C395.81,75.89 397.62,74.47 399.48,73.10 C401.34,71.73 403.25,70.40 405.20,69.11 C407.15,67.82 409.14,66.57 411.16,65.35 C413.18,64.13 415.25,62.95 417.32,61.79 C419.40,60.64 421.51,59.52 423.63,58.42 C425.75,57.32 427.90,56.25 430.05,55.20 C432.19,54.14 434.36,53.11 436.52,52.10 C438.68,51.08 440.83,50.06 443.00,49.10 C445.17,48.14 447.32,47.15 449.53,46.33 C451.74,45.51 453.97,44.75 456.26,44.17 C458.56,43.60 460.93,43.21 463.31,42.88 C465.69,42.55 468.12,42.36 470.53,42.18 C472.95,42.00 475.37,41.89 477.80,41.80 C480.22,41.72 482.65,41.68 485.08,41.66 C487.52,41.64 489.95,41.66 492.39,41.69 C494.82,41.72 497.26,41.78 499.70,41.83 C502.13,41.89 504.57,41.96 507.01,42.02 C509.44,42.07 511.88,42.14 514.31,42.18 C516.73,42.22 519.16,42.24 521.59,42.26 C524.01,42.28 526.43,42.26 528.84,42.30 C531.26,42.34 533.67,42.37 536.09,42.48 C538.50,42.60 540.91,42.77 543.31,42.99 C545.72,43.20 548.13,43.50 550.54,43.79 C552.94,44.08 555.34,44.40 557.75,44.71 C560.15,45.02 562.55,45.34 564.95,45.66 C567.35,45.98 569.75,46.30 572.15,46.63 C574.55,46.95 576.95,47.28 579.35,47.60 C581.75,47.93 584.15,48.26 586.54,48.58 C588.94,48.91 591.34,49.23 593.74,49.55 C596.13,49.87 598.53,50.19 600.93,50.51 C603.33,50.83 605.73,51.14 608.13,51.46 C610.53,51.77 612.93,52.08 615.32,52.40 C617.72,52.72 620.12,53.03 622.52,53.36 C624.92,53.68 627.31,54.01 629.71,54.34 C632.11,54.66 634.51,55.00 636.90,55.32 C639.30,55.65 641.70,55.99 644.10,56.31 C646.50,56.64 648.89,56.97 651.29,57.29 C653.69,57.61 656.09,57.93 658.49,58.25 C660.89,58.56 663.29,58.87 665.69,59.17 C668.09,59.47 670.50,59.76 672.90,60.05 C675.30,60.33 677.71,60.61 680.11,60.87 C682.52,61.14 684.93,61.39 687.34,61.63 C689.75,61.87 692.16,62.10 694.57,62.32 C696.98,62.54 699.39,62.75 701.81,62.94 C704.22,63.14 706.64,63.33 709.06,63.51 C711.47,63.69 713.89,63.86 716.31,64.02 C718.73,64.18 721.15,64.33 723.57,64.48 C725.99,64.63 728.41,64.77 730.83,64.90 C733.26,65.03 735.68,65.16 738.10,65.28 C740.52,65.40 742.95,65.52 745.37,65.63 C747.80,65.74 750.22,65.85 752.64,65.96 C755.07,66.06 757.49,66.16 759.92,66.26 C762.34,66.36 764.77,66.46 767.19,66.55 C769.62,66.65 772.04,66.74 774.47,66.84 C776.89,66.93 779.31,67.02 781.74,67.11 C784.16,67.21 786.59,67.30 789.01,67.40 C791.43,67.49 793.85,67.59 796.28,67.69 C798.70,67.79 801.12,67.89 803.54,67.99 C805.96,68.10 809.59,68.26 810.80,68.32" fill="none" stroke="#2ac42a" stroke-width="3.6" stroke-linejoin="round" stroke-linecap="round"/>
</g></g>
<rect x="148" y="24" width="129" height="132" fill="#fff"/>
<path d="M148,156.2 H277.2 V23.5" fill="none" stroke="#c4c4c4" stroke-width="1"/>
<line x1="146.4" x2="277.5" y1="24.0" y2="24.0" stroke="#808080" stroke-width="1.7"/>
<line x1="157" x2="183" y1="35.10" y2="35.10" stroke="#ff0207" stroke-width="4.8"/>
<text transform="translate(193.80,40.50) scale(1,1.03)" font-size="12.3" text-anchor="start" fill="#0b0b0b" >SS150_60Hz</text>
<line x1="157" x2="183" y1="50.75" y2="50.75" stroke="#ff9a0a" stroke-width="4.8"/>
<text transform="translate(193.80,55.98) scale(1,1.03)" font-size="12.3" text-anchor="start" fill="#0b0b0b" >SS150_50Hz</text>
<line x1="157" x2="183" y1="66.40" y2="66.40" stroke="#000000" stroke-width="4.8"/>
<text transform="translate(193.80,71.46) scale(1,1.03)" font-size="12.3" text-anchor="start" fill="#0b0b0b" >SS300_60Hz</text>
<line x1="157" x2="183" y1="82.05" y2="82.05" stroke="#b4b4b4" stroke-width="4.8"/>
<text transform="translate(193.80,86.94) scale(1,1.03)" font-size="12.3" text-anchor="start" fill="#0b0b0b" >SS300_50Hz</text>
<line x1="157" x2="183" y1="97.70" y2="97.70" stroke="#0404ff" stroke-width="4.8"/>
<text transform="translate(193.80,102.42) scale(1,1.03)" font-size="12.3" text-anchor="start" fill="#0b0b0b" >SS400_60Hz</text>
<line x1="157" x2="183" y1="113.35" y2="113.35" stroke="#0f96c8" stroke-width="4.8"/>
<text transform="translate(193.80,117.90) scale(1,1.03)" font-size="12.3" text-anchor="start" fill="#0b0b0b" >SS400_50Hz</text>
<line x1="157" x2="183" y1="129.00" y2="129.00" stroke="#2ac42a" stroke-width="4.8"/>
<text transform="translate(193.80,133.38) scale(1,1.03)" font-size="12.3" text-anchor="start" fill="#0b0b0b" >SS800_60Hz</text>
<line x1="157" x2="183" y1="144.65" y2="144.65" stroke="#60fb60" stroke-width="4.8"/>
<text transform="translate(193.80,148.86) scale(1,1.03)" font-size="12.3" text-anchor="start" fill="#0b0b0b" >SS800_50Hz</text>
<text transform="translate(135.20,416.90) scale(1,1.06)" font-size="13.33" text-anchor="end" fill="#0b0b0b" >0</text>
<text transform="translate(135.20,373.71) scale(1,1.06)" font-size="13.33" text-anchor="end" fill="#0b0b0b" >100</text>
<text transform="translate(135.20,330.52) scale(1,1.06)" font-size="13.33" text-anchor="end" fill="#0b0b0b" >200</text>
<text transform="translate(135.20,287.33) scale(1,1.06)" font-size="13.33" text-anchor="end" fill="#0b0b0b" >300</text>
<text transform="translate(135.20,244.14) scale(1,1.06)" font-size="13.33" text-anchor="end" fill="#0b0b0b" >400</text>
<text transform="translate(135.20,200.96) scale(1,1.06)" font-size="13.33" text-anchor="end" fill="#0b0b0b" >500</text>
<text transform="translate(135.20,157.77) scale(1,1.06)" font-size="13.33" text-anchor="end" fill="#0b0b0b" >600</text>
<text transform="translate(135.20,114.58) scale(1,1.06)" font-size="13.33" text-anchor="end" fill="#0b0b0b" >700</text>
<text transform="translate(135.20,71.39) scale(1,1.06)" font-size="13.33" text-anchor="end" fill="#0b0b0b" >800</text>
<text transform="translate(135.20,28.20) scale(1,1.06)" font-size="13.33" text-anchor="end" fill="#0b0b0b" >900</text>
<text transform="translate(98.3,295.1) rotate(-90) scale(1.068,1)" font-size="13.33" fill="#0b0b0b">Nominal Capacity(m3/hr)</text>
<text transform="translate(108.80,440.80) scale(1,1.06)" font-size="13.33" text-anchor="start" fill="#0b0b0b" >0.001 / 0.133</text>
<text transform="translate(228.30,440.80) scale(1,1.06)" font-size="13.33" text-anchor="start" fill="#0b0b0b" >0.01 / 1.33</text>
<text transform="translate(344.30,440.80) scale(1,1.06)" font-size="13.33" text-anchor="start" fill="#0b0b0b" >0.1 / 13.33</text>
<text transform="translate(460.90,440.80) scale(1,1.06)" font-size="13.33" text-anchor="start" fill="#0b0b0b" >1 / 133</text>
<text transform="translate(551.30,440.80) scale(1,1.06)" font-size="13.33" text-anchor="start" fill="#0b0b0b" >10 / 1,333</text>
<text transform="translate(641.70,440.80) scale(1,1.06)" font-size="13.33" text-anchor="start" fill="#0b0b0b" >100 / 13,333</text>
<text transform="translate(727.40,440.80) scale(1,1.06)" font-size="13.33" text-anchor="start" fill="#0b0b0b" >760 / 101,325</text>
<text transform="translate(407.40,462.20) scale(1,1.06)" font-size="13.33" text-anchor="start" fill="#0b0b0b" >Pressure(Torr / Pa)</text>
<text transform="translate(303.90,482.80) scale(1,1.06)" font-size="12.38" text-anchor="start" fill="#fb0d1e" >Performance based on ambient condition, tolerance <tspan font-weight='normal' font-size='14'>±</tspan>10%</text>
<g>
<line x1="197.32" x2="197.32" y1="517.40" y2="907.50" stroke="#c3c3c3" stroke-width="1.25"/>
<line x1="221.20" x2="221.20" y1="517.40" y2="907.50" stroke="#c3c3c3" stroke-width="1.25"/>
<line x1="238.14" x2="238.14" y1="517.40" y2="907.50" stroke="#c3c3c3" stroke-width="1.25"/>
<line x1="251.28" x2="251.28" y1="517.40" y2="907.50" stroke="#c3c3c3" stroke-width="1.25"/>
<line x1="262.02" x2="262.02" y1="517.40" y2="907.50" stroke="#c3c3c3" stroke-width="1.25"/>
<line x1="271.10" x2="271.10" y1="517.40" y2="907.50" stroke="#c3c3c3" stroke-width="1.25"/>
<line x1="278.96" x2="278.96" y1="517.40" y2="907.50" stroke="#c3c3c3" stroke-width="1.25"/>
<line x1="285.90" x2="285.90" y1="517.40" y2="907.50" stroke="#c3c3c3" stroke-width="1.25"/>
<line x1="332.92" x2="332.92" y1="517.40" y2="907.50" stroke="#c3c3c3" stroke-width="1.25"/>
<line x1="356.80" x2="356.80" y1="517.40" y2="907.50" stroke="#c3c3c3" stroke-width="1.25"/>
<line x1="373.74" x2="373.74" y1="517.40" y2="907.50" stroke="#c3c3c3" stroke-width="1.25"/>
<line x1="386.88" x2="386.88" y1="517.40" y2="907.50" stroke="#c3c3c3" stroke-width="1.25"/>
<line x1="397.62" x2="397.62" y1="517.40" y2="907.50" stroke="#c3c3c3" stroke-width="1.25"/>
<line x1="406.70" x2="406.70" y1="517.40" y2="907.50" stroke="#c3c3c3" stroke-width="1.25"/>
<line x1="414.56" x2="414.56" y1="517.40" y2="907.50" stroke="#c3c3c3" stroke-width="1.25"/>
<line x1="421.50" x2="421.50" y1="517.40" y2="907.50" stroke="#c3c3c3" stroke-width="1.25"/>
<line x1="468.52" x2="468.52" y1="517.40" y2="907.50" stroke="#c3c3c3" stroke-width="1.25"/>
<line x1="492.40" x2="492.40" y1="517.40" y2="907.50" stroke="#c3c3c3" stroke-width="1.25"/>
<line x1="509.34" x2="509.34" y1="517.40" y2="907.50" stroke="#c3c3c3" stroke-width="1.25"/>
<line x1="522.48" x2="522.48" y1="517.40" y2="907.50" stroke="#c3c3c3" stroke-width="1.25"/>
<line x1="533.22" x2="533.22" y1="517.40" y2="907.50" stroke="#c3c3c3" stroke-width="1.25"/>
<line x1="542.30" x2="542.30" y1="517.40" y2="907.50" stroke="#c3c3c3" stroke-width="1.25"/>
<line x1="550.16" x2="550.16" y1="517.40" y2="907.50" stroke="#c3c3c3" stroke-width="1.25"/>
<line x1="557.10" x2="557.10" y1="517.40" y2="907.50" stroke="#c3c3c3" stroke-width="1.25"/>
<line x1="604.12" x2="604.12" y1="517.40" y2="907.50" stroke="#c3c3c3" stroke-width="1.25"/>
<line x1="628.00" x2="628.00" y1="517.40" y2="907.50" stroke="#c3c3c3" stroke-width="1.25"/>
<line x1="644.94" x2="644.94" y1="517.40" y2="907.50" stroke="#c3c3c3" stroke-width="1.25"/>
<line x1="658.08" x2="658.08" y1="517.40" y2="907.50" stroke="#c3c3c3" stroke-width="1.25"/>
<line x1="668.82" x2="668.82" y1="517.40" y2="907.50" stroke="#c3c3c3" stroke-width="1.25"/>
<line x1="677.90" x2="677.90" y1="517.40" y2="907.50" stroke="#c3c3c3" stroke-width="1.25"/>
<line x1="685.76" x2="685.76" y1="517.40" y2="907.50" stroke="#c3c3c3" stroke-width="1.25"/>
<line x1="692.70" x2="692.70" y1="517.40" y2="907.50" stroke="#c3c3c3" stroke-width="1.25"/>
<line x1="739.72" x2="739.72" y1="517.40" y2="907.50" stroke="#c3c3c3" stroke-width="1.25"/>
<line x1="763.60" x2="763.60" y1="517.40" y2="907.50" stroke="#c3c3c3" stroke-width="1.25"/>
<line x1="780.54" x2="780.54" y1="517.40" y2="907.50" stroke="#c3c3c3" stroke-width="1.25"/>
<line x1="793.68" x2="793.68" y1="517.40" y2="907.50" stroke="#c3c3c3" stroke-width="1.25"/>
<line x1="804.42" x2="804.42" y1="517.40" y2="907.50" stroke="#c3c3c3" stroke-width="1.25"/>
<line x1="813.50" x2="813.50" y1="517.40" y2="907.50" stroke="#c3c3c3" stroke-width="1.25"/>
<line x1="818.34" x2="818.34" y1="517.40" y2="907.50" stroke="#c3c3c3" stroke-width="1"/>
<line x1="157.00" x2="818.34" y1="517.40" y2="517.40" stroke="#a2a2a2" stroke-width="1.5"/>
<line x1="157.00" x2="818.34" y1="582.42" y2="582.42" stroke="#a2a2a2" stroke-width="1.5"/>
<line x1="157.00" x2="818.34" y1="647.43" y2="647.43" stroke="#a2a2a2" stroke-width="1.5"/>
<line x1="157.00" x2="818.34" y1="712.45" y2="712.45" stroke="#a2a2a2" stroke-width="1.5"/>
<line x1="157.00" x2="818.34" y1="777.47" y2="777.47" stroke="#a2a2a2" stroke-width="1.5"/>
<line x1="157.00" x2="818.34" y1="842.48" y2="842.48" stroke="#a2a2a2" stroke-width="1.5"/>
<line x1="292.10" x2="292.10" y1="517.40" y2="907.50" stroke="#979797" stroke-width="1.45"/>
<line x1="427.70" x2="427.70" y1="517.40" y2="907.50" stroke="#979797" stroke-width="1.45"/>
<line x1="563.30" x2="563.30" y1="517.40" y2="907.50" stroke="#979797" stroke-width="1.45"/>
<line x1="698.90" x2="698.90" y1="517.40" y2="907.50" stroke="#979797" stroke-width="1.45"/>
</g>
<line x1="157" x2="157" y1="516.90" y2="908.30" stroke="#808080" stroke-width="2"/>
<line x1="156" x2="818.84" y1="907.5" y2="907.5" stroke="#808080" stroke-width="1.7"/>
<clipPath id="cp2"><rect x="150" y="500" width="672.34" height="412"/></clipPath>
<g clip-path="url(#cp2)"><g transform="scale(1,1.12)">
<path d="M251.08,810.27 C251.28,809.15 251.88,805.81 252.28,803.58 C252.69,801.35 253.09,799.12 253.50,796.89 C253.91,794.66 254.32,792.43 254.73,790.20 C255.14,787.97 255.55,785.74 255.96,783.51 C256.38,781.28 256.80,779.05 257.21,776.82 C257.63,774.59 258.06,772.36 258.48,770.13 C258.91,767.90 259.34,765.68 259.77,763.45 C260.20,761.22 260.64,759.00 261.07,756.77 C261.51,754.54 261.96,752.32 262.40,750.09 C262.85,747.87 263.30,745.65 263.76,743.42 C264.21,741.20 264.67,738.98 265.14,736.76 C265.60,734.53 266.07,732.31 266.55,730.09 C267.02,727.87 267.50,725.66 267.99,723.44 C268.48,721.22 268.97,719.01 269.46,716.79 C269.96,714.58 270.47,712.36 270.97,710.15 C271.48,707.94 272.00,705.73 272.52,703.52 C273.05,701.31 273.58,699.10 274.11,696.89 C274.65,694.68 275.19,692.48 275.74,690.27 C276.29,688.07 276.85,685.87 277.42,683.67 C277.98,681.47 278.56,679.27 279.14,677.07 C279.72,674.88 280.31,672.68 280.91,670.49 C281.51,668.29 282.11,666.10 282.73,663.91 C283.35,661.72 283.97,659.54 284.60,657.35 C285.24,655.17 285.88,652.98 286.53,650.80 C287.19,648.62 287.85,646.44 288.52,644.26 C289.19,642.09 289.87,639.91 290.57,637.74 C291.26,635.57 291.96,633.40 292.67,631.23 C293.39,629.07 294.11,626.90 294.85,624.74 C295.58,622.58 296.33,620.42 297.08,618.26 C297.84,616.10 298.61,613.95 299.39,611.80 C300.17,609.65 300.96,607.50 301.77,605.35 C302.57,603.21 303.39,601.07 304.22,598.93 C305.06,596.79 305.90,594.66 306.77,592.53 C307.63,590.40 308.51,588.28 309.41,586.17 C310.31,584.05 311.23,581.94 312.16,579.84 C313.10,577.74 314.06,575.65 315.04,573.56 C316.01,571.47 317.01,569.40 318.04,567.33 C319.06,565.26 320.10,563.20 321.18,561.15 C322.25,559.10 323.34,557.07 324.48,555.05 C325.61,553.03 326.77,551.02 327.97,549.04 C329.17,547.06 330.41,545.10 331.70,543.17 C332.98,541.23 334.31,539.32 335.69,537.45 C337.07,535.57 338.50,533.72 339.98,531.91 C341.46,530.10 343.01,528.33 344.59,526.58 C346.18,524.83 347.82,523.12 349.50,521.44 C351.18,519.76 352.90,518.10 354.66,516.48 C356.42,514.85 358.22,513.25 360.05,511.67 C361.88,510.10 363.75,508.55 365.64,507.02 C367.52,505.49 369.44,503.98 371.38,502.49 C373.31,501.00 375.27,499.53 377.24,498.08 C379.21,496.63 381.19,495.18 383.21,493.80 C385.23,492.42 387.26,491.06 389.35,489.81 C391.45,488.57 393.57,487.38 395.78,486.35 C397.98,485.32 400.24,484.40 402.57,483.62 C404.89,482.85 407.30,482.22 409.74,481.70 C412.17,481.18 414.68,480.81 417.19,480.50 C419.70,480.18 422.25,479.98 424.79,479.80 C427.33,479.62 429.89,479.51 432.43,479.42 C434.97,479.32 437.50,479.27 440.03,479.23 C442.57,479.19 445.09,479.18 447.62,479.18 C450.15,479.18 452.68,479.20 455.20,479.22 C457.73,479.24 460.25,479.28 462.78,479.31 C465.31,479.33 467.84,479.36 470.36,479.38 C472.89,479.40 475.43,479.41 477.96,479.43 C480.49,479.45 483.02,479.46 485.55,479.50 C488.08,479.54 490.62,479.58 493.14,479.65 C495.67,479.72 498.20,479.81 500.72,479.94 C503.24,480.06 505.76,480.22 508.28,480.42 C510.80,480.62 513.31,480.86 515.81,481.13 C518.32,481.40 520.82,481.71 523.33,482.03 C525.83,482.35 528.33,482.70 530.83,483.05 C533.33,483.39 535.83,483.76 538.33,484.12 C540.83,484.47 543.33,484.83 545.83,485.17 C548.33,485.51 550.84,485.84 553.34,486.15 C555.85,486.46 558.36,486.75 560.87,487.03 C563.38,487.30 565.89,487.56 568.41,487.82 C570.92,488.07 573.43,488.30 575.95,488.54 C578.47,488.77 580.99,488.99 583.50,489.21 C586.02,489.43 588.54,489.64 591.06,489.86 C593.58,490.07 596.10,490.28 598.62,490.50 C601.14,490.72 603.66,490.93 606.18,491.16 C608.70,491.38 611.21,491.61 613.73,491.84 C616.25,492.07 618.77,492.30 621.29,492.54 C623.80,492.77 626.32,493.01 628.84,493.24 C631.36,493.47 633.87,493.71 636.39,493.94 C638.91,494.17 641.43,494.40 643.94,494.62 C646.46,494.84 648.98,495.06 651.50,495.27 C654.02,495.48 656.54,495.69 659.06,495.89 C661.58,496.08 664.10,496.27 666.62,496.45 C669.14,496.62 671.66,496.79 674.19,496.95 C676.71,497.10 679.23,497.25 681.76,497.38 C684.28,497.52 686.81,497.65 689.33,497.77 C691.86,497.88 694.39,497.99 696.91,498.10 C699.44,498.20 701.97,498.30 704.50,498.39 C707.02,498.48 709.55,498.56 712.08,498.64 C714.61,498.72 717.14,498.79 719.67,498.87 C722.20,498.94 724.73,499.00 727.26,499.07 C729.79,499.13 732.32,499.19 734.85,499.25 C737.38,499.31 739.91,499.37 742.44,499.43 C744.97,499.48 747.50,499.54 750.03,499.60 C752.56,499.65 755.10,499.71 757.63,499.77 C760.16,499.83 762.69,499.89 765.22,499.96 C767.75,500.02 770.28,500.09 772.81,500.16 C775.34,500.23 777.87,500.30 780.40,500.38 C782.93,500.46 785.45,500.54 787.98,500.63 C790.51,500.72 793.04,500.82 795.57,500.92 C798.09,501.02 800.62,501.13 803.15,501.25 C805.67,501.37 808.20,501.49 810.73,501.63 C813.25,501.77 817.04,501.99 818.30,502.06" fill="none" stroke="#000000" stroke-width="3.5" stroke-linejoin="round" stroke-linecap="round"/>
<path d="M293.24,810.17 C293.53,809.36 294.37,806.91 294.97,805.29 C295.58,803.68 296.21,802.09 296.85,800.50 C297.50,798.92 298.17,797.34 298.86,795.78 C299.55,794.21 300.26,792.66 300.98,791.11 C301.70,789.57 302.44,788.03 303.19,786.50 C303.94,784.97 304.71,783.44 305.49,781.92 C306.27,780.41 307.06,778.89 307.85,777.38 C308.65,775.87 309.46,774.36 310.27,772.86 C311.08,771.35 311.90,769.85 312.73,768.35 C313.55,766.84 314.38,765.34 315.21,763.83 C316.03,762.33 316.87,760.82 317.69,759.31 C318.52,757.80 319.35,756.29 320.17,754.78 C321.00,753.26 321.82,751.74 322.64,750.21 C323.45,748.68 324.27,747.15 325.08,745.62 C325.89,744.08 326.71,742.55 327.52,741.01 C328.34,739.48 329.16,737.94 329.99,736.41 C330.81,734.88 331.64,733.35 332.48,731.83 C333.33,730.31 334.18,728.79 335.04,727.28 C335.91,725.77 336.78,724.26 337.67,722.77 C338.56,721.28 339.47,719.79 340.40,718.32 C341.32,716.86 342.27,715.40 343.24,713.95 C344.20,712.51 345.19,711.08 346.20,709.67 C347.22,708.26 348.26,706.87 349.33,705.50 C350.39,704.13 351.49,702.77 352.61,701.44 C353.74,700.11 354.90,698.80 356.09,697.52 C357.29,696.23 358.51,694.97 359.77,693.74 C361.04,692.51 362.33,691.30 363.66,690.12 C364.99,688.94 366.36,687.78 367.76,686.66 C369.15,685.53 370.58,684.44 372.05,683.37 C373.51,682.31 375.01,681.27 376.53,680.26 C378.06,679.26 379.62,678.28 381.20,677.34 C382.78,676.40 384.39,675.50 386.03,674.63 C387.66,673.76 389.32,672.92 391.00,672.13 C392.67,671.33 394.37,670.58 396.09,669.86 C397.80,669.14 399.53,668.47 401.28,667.83 C403.03,667.20 404.79,666.60 406.56,666.04 C408.34,665.49 410.13,664.97 411.93,664.49 C413.73,664.01 415.54,663.56 417.36,663.15 C419.18,662.74 421.01,662.37 422.85,662.03 C424.69,661.69 426.54,661.39 428.40,661.11 C430.25,660.84 432.12,660.60 433.98,660.39 C435.85,660.17 437.73,659.99 439.60,659.82 C441.48,659.65 443.37,659.51 445.25,659.38 C447.13,659.25 449.02,659.14 450.91,659.03 C452.80,658.93 454.69,658.84 456.59,658.75 C458.48,658.66 460.37,658.59 462.26,658.50 C464.15,658.42 466.04,658.34 467.93,658.25 C469.82,658.17 471.71,658.07 473.59,657.98 C475.47,657.89 477.36,657.80 479.24,657.71 C481.12,657.63 483.00,657.55 484.88,657.48 C486.75,657.42 488.63,657.36 490.51,657.32 C492.39,657.29 494.27,657.27 496.15,657.28 C498.02,657.29 499.90,657.32 501.78,657.38 C503.66,657.43 505.54,657.52 507.42,657.61 C509.30,657.70 511.18,657.82 513.06,657.93 C514.95,658.05 516.83,658.18 518.71,658.32 C520.59,658.45 522.47,658.60 524.35,658.74 C526.24,658.88 528.12,659.03 530.00,659.16 C531.88,659.30 533.77,659.44 535.65,659.57 C537.53,659.70 539.41,659.82 541.30,659.93 C543.18,660.05 545.06,660.16 546.94,660.27 C548.83,660.37 550.71,660.47 552.59,660.57 C554.48,660.66 556.36,660.75 558.24,660.84 C560.13,660.93 562.01,661.01 563.89,661.10 C565.78,661.18 567.66,661.26 569.54,661.33 C571.43,661.41 573.31,661.48 575.19,661.56 C577.08,661.63 578.96,661.70 580.84,661.77 C582.73,661.84 584.61,661.92 586.49,661.99 C588.38,662.06 590.26,662.13 592.14,662.20 C594.03,662.27 595.91,662.35 597.79,662.42 C599.68,662.49 601.56,662.57 603.45,662.64 C605.33,662.72 607.21,662.80 609.10,662.87 C610.98,662.95 612.86,663.02 614.75,663.10 C616.63,663.18 618.51,663.26 620.40,663.33 C622.28,663.41 624.16,663.49 626.05,663.57 C627.93,663.64 629.81,663.72 631.70,663.80 C633.58,663.87 635.47,663.95 637.35,664.03 C639.23,664.11 641.12,664.18 643.00,664.26 C644.88,664.34 646.77,664.41 648.65,664.49 C650.54,664.56 652.42,664.64 654.30,664.71 C656.19,664.78 658.07,664.86 659.96,664.93 C661.84,665.00 663.72,665.08 665.61,665.15 C667.49,665.22 669.38,665.29 671.26,665.36 C673.14,665.42 675.03,665.49 676.91,665.56 C678.80,665.62 680.68,665.69 682.56,665.75 C684.45,665.82 686.33,665.88 688.22,665.94 C690.10,666.00 691.99,666.06 693.87,666.12 C695.76,666.17 697.64,666.23 699.52,666.28 C701.41,666.34 703.29,666.39 705.18,666.44 C707.06,666.49 708.95,666.54 710.83,666.59 C712.72,666.63 714.60,666.68 716.49,666.72 C718.37,666.77 720.26,666.81 722.14,666.85 C724.03,666.89 725.91,666.93 727.80,666.97 C729.68,667.01 731.57,667.05 733.45,667.09 C735.34,667.12 737.22,667.16 739.11,667.19 C740.99,667.23 742.88,667.26 744.77,667.29 C746.65,667.32 748.54,667.36 750.42,667.39 C752.31,667.42 754.19,667.45 756.08,667.47 C757.96,667.50 759.85,667.53 761.73,667.56 C763.62,667.59 765.51,667.61 767.39,667.64 C769.28,667.67 771.16,667.69 773.05,667.72 C774.93,667.74 776.82,667.77 778.70,667.79 C780.59,667.82 782.48,667.84 784.36,667.87 C786.25,667.89 788.13,667.92 790.02,667.94 C791.90,667.96 793.79,667.99 795.67,668.01 C797.56,668.04 799.45,668.06 801.33,668.08 C803.22,668.11 805.10,668.13 806.99,668.16 C808.87,668.18 810.76,668.21 812.64,668.23 C814.53,668.26 817.36,668.29 818.30,668.31" fill="none" stroke="#ff9a0a" stroke-width="3.9" stroke-linejoin="round" stroke-linecap="round"/>
<path d="M251.12,810.31 C251.51,809.46 252.66,806.92 253.43,805.22 C254.21,803.52 254.98,801.82 255.76,800.12 C256.54,798.42 257.32,796.71 258.10,795.01 C258.88,793.30 259.67,791.60 260.46,789.89 C261.25,788.18 262.04,786.48 262.84,784.77 C263.64,783.06 264.44,781.36 265.25,779.65 C266.06,777.95 266.87,776.24 267.69,774.54 C268.51,772.83 269.33,771.13 270.16,769.43 C270.99,767.72 271.83,766.02 272.67,764.33 C273.51,762.63 274.36,760.93 275.22,759.24 C276.08,757.55 276.94,755.86 277.81,754.17 C278.68,752.49 279.56,750.80 280.45,749.12 C281.34,747.45 282.24,745.77 283.14,744.10 C284.05,742.43 284.97,740.76 285.89,739.10 C286.82,737.44 287.75,735.78 288.70,734.13 C289.64,732.48 290.60,730.84 291.56,729.20 C292.53,727.56 293.51,725.93 294.50,724.30 C295.49,722.67 296.49,721.05 297.50,719.44 C298.51,717.83 299.54,716.22 300.57,714.63 C301.61,713.03 302.66,711.44 303.73,709.86 C304.79,708.28 305.87,706.71 306.96,705.14 C308.05,703.58 309.15,702.02 310.27,700.48 C311.39,698.93 312.53,697.40 313.67,695.87 C314.82,694.35 315.99,692.83 317.17,691.32 C318.35,689.82 319.54,688.32 320.75,686.84 C321.97,685.36 323.19,683.88 324.44,682.42 C325.69,680.96 326.95,679.52 328.24,678.09 C329.53,676.66 330.84,675.24 332.17,673.85 C333.51,672.45 334.86,671.07 336.25,669.72 C337.64,668.36 339.05,667.03 340.49,665.72 C341.94,664.41 343.41,663.12 344.92,661.86 C346.43,660.60 347.97,659.36 349.54,658.16 C351.11,656.95 352.72,655.77 354.34,654.61 C355.97,653.45 357.63,652.32 359.31,651.22 C360.98,650.11 362.69,649.03 364.41,647.98 C366.13,646.92 367.88,645.89 369.64,644.88 C371.39,643.87 373.17,642.89 374.96,641.93 C376.75,640.98 378.56,640.04 380.38,639.15 C382.21,638.26 384.05,637.39 385.90,636.58 C387.76,635.77 389.64,634.99 391.54,634.28 C393.44,633.57 395.36,632.90 397.30,632.31 C399.24,631.71 401.20,631.18 403.18,630.70 C405.16,630.22 407.16,629.81 409.18,629.44 C411.19,629.08 413.22,628.77 415.26,628.50 C417.29,628.24 419.34,628.03 421.40,627.84 C423.45,627.66 425.52,627.52 427.59,627.40 C429.65,627.28 431.73,627.20 433.81,627.13 C435.88,627.05 437.96,627.01 440.04,626.96 C442.12,626.91 444.21,626.88 446.29,626.84 C448.37,626.80 450.44,626.76 452.52,626.72 C454.59,626.68 456.67,626.63 458.74,626.59 C460.81,626.54 462.88,626.50 464.95,626.46 C467.02,626.43 469.08,626.39 471.15,626.37 C473.22,626.34 475.28,626.32 477.35,626.31 C479.41,626.30 481.47,626.30 483.54,626.32 C485.60,626.33 487.66,626.36 489.73,626.40 C491.79,626.45 493.85,626.51 495.92,626.58 C497.98,626.66 500.05,626.75 502.11,626.86 C504.17,626.96 506.24,627.08 508.30,627.20 C510.37,627.33 512.43,627.46 514.49,627.61 C516.56,627.75 518.62,627.90 520.69,628.05 C522.75,628.20 524.82,628.35 526.88,628.51 C528.95,628.66 531.01,628.82 533.08,628.97 C535.14,629.12 537.20,629.27 539.27,629.42 C541.33,629.57 543.40,629.71 545.46,629.85 C547.53,629.99 549.59,630.13 551.65,630.27 C553.72,630.40 555.78,630.54 557.85,630.67 C559.91,630.80 561.97,630.93 564.04,631.06 C566.10,631.19 568.17,631.31 570.23,631.43 C572.30,631.56 574.36,631.68 576.42,631.80 C578.49,631.92 580.55,632.04 582.62,632.15 C584.68,632.27 586.75,632.39 588.81,632.50 C590.88,632.61 592.94,632.73 595.00,632.84 C597.07,632.95 599.13,633.06 601.20,633.17 C603.26,633.28 605.33,633.39 607.40,633.50 C609.46,633.60 611.53,633.71 613.59,633.81 C615.66,633.92 617.72,634.02 619.79,634.13 C621.85,634.23 623.92,634.33 625.99,634.43 C628.05,634.53 630.12,634.63 632.18,634.73 C634.25,634.82 636.32,634.92 638.38,635.02 C640.45,635.11 642.52,635.21 644.58,635.30 C646.65,635.39 648.71,635.48 650.78,635.57 C652.85,635.66 654.91,635.75 656.98,635.84 C659.05,635.93 661.12,636.02 663.18,636.10 C665.25,636.19 667.32,636.27 669.38,636.36 C671.45,636.44 673.52,636.52 675.58,636.60 C677.65,636.68 679.72,636.76 681.79,636.84 C683.85,636.92 685.92,637.00 687.99,637.07 C690.06,637.15 692.12,637.22 694.19,637.30 C696.26,637.37 698.33,637.44 700.40,637.52 C702.46,637.59 704.53,637.66 706.60,637.72 C708.67,637.79 710.73,637.86 712.80,637.93 C714.87,637.99 716.94,638.06 719.01,638.12 C721.07,638.18 723.14,638.25 725.21,638.31 C727.28,638.37 729.35,638.43 731.42,638.49 C733.48,638.54 735.55,638.60 737.62,638.66 C739.69,638.71 741.76,638.77 743.83,638.82 C745.89,638.87 747.96,638.93 750.03,638.98 C752.10,639.03 754.17,639.08 756.24,639.13 C758.31,639.17 760.37,639.22 762.44,639.27 C764.51,639.31 766.58,639.36 768.65,639.40 C770.72,639.44 772.79,639.48 774.86,639.52 C776.92,639.56 778.99,639.60 781.06,639.64 C783.13,639.68 785.20,639.71 787.27,639.75 C789.34,639.78 791.41,639.82 793.47,639.85 C795.54,639.88 797.61,639.91 799.68,639.94 C801.75,639.97 803.82,640.00 805.89,640.03 C807.96,640.05 810.02,640.08 812.09,640.10 C814.16,640.13 817.27,640.16 818.30,640.17" fill="none" stroke="#ff0207" stroke-width="3.9" stroke-linejoin="round" stroke-linecap="round"/>
<path d="M292.16,810.26 C292.29,809.26 292.71,806.26 292.99,804.27 C293.27,802.27 293.56,800.28 293.85,798.28 C294.15,796.28 294.44,794.29 294.74,792.30 C295.05,790.30 295.36,788.31 295.67,786.32 C295.98,784.32 296.30,782.33 296.63,780.34 C296.96,778.35 297.29,776.36 297.63,774.37 C297.97,772.39 298.31,770.40 298.67,768.41 C299.02,766.43 299.38,764.45 299.75,762.46 C300.12,760.48 300.50,758.50 300.88,756.52 C301.27,754.54 301.66,752.56 302.06,750.59 C302.46,748.61 302.87,746.64 303.29,744.67 C303.71,742.70 304.14,740.73 304.58,738.76 C305.02,736.79 305.46,734.83 305.92,732.86 C306.38,730.90 306.85,728.94 307.33,726.98 C307.81,725.02 308.30,723.07 308.80,721.11 C309.30,719.16 309.81,717.21 310.33,715.26 C310.86,713.31 311.39,711.37 311.94,709.43 C312.49,707.48 313.04,705.55 313.62,703.61 C314.19,701.67 314.77,699.74 315.37,697.81 C315.96,695.88 316.57,693.95 317.20,692.03 C317.82,690.11 318.46,688.19 319.11,686.27 C319.76,684.35 320.42,682.44 321.10,680.53 C321.78,678.62 322.47,676.72 323.18,674.81 C323.89,672.91 324.61,671.01 325.35,669.12 C326.09,667.23 326.84,665.34 327.61,663.45 C328.38,661.56 329.16,659.68 329.97,657.80 C330.77,655.93 331.58,654.05 332.42,652.18 C333.25,650.31 334.10,648.45 334.97,646.59 C335.84,644.73 336.73,642.88 337.63,641.03 C338.53,639.18 339.45,637.34 340.39,635.50 C341.33,633.67 342.28,631.84 343.26,630.02 C344.23,628.20 345.22,626.39 346.23,624.59 C347.25,622.78 348.28,620.99 349.32,619.20 C350.37,617.42 351.44,615.64 352.53,613.88 C353.61,612.11 354.72,610.36 355.85,608.62 C356.97,606.87 358.12,605.14 359.28,603.42 C360.45,601.71 361.64,600.00 362.84,598.31 C364.05,596.61 365.28,594.93 366.53,593.27 C367.77,591.60 369.04,589.95 370.33,588.31 C371.62,586.68 372.93,585.06 374.27,583.45 C375.60,581.85 376.96,580.26 378.33,578.68 C379.71,577.11 381.11,575.55 382.53,574.02 C383.95,572.48 385.40,570.96 386.87,569.46 C388.35,567.97 389.85,566.49 391.38,565.03 C392.90,563.58 394.46,562.14 396.05,560.74 C397.64,559.33 399.26,557.94 400.91,556.58 C402.56,555.23 404.24,553.89 405.97,552.59 C407.69,551.29 409.44,550.01 411.24,548.76 C413.03,547.52 414.86,546.28 416.73,545.12 C418.61,543.96 420.52,542.80 422.48,541.80 C424.44,540.79 426.45,539.85 428.50,539.08 C430.55,538.30 432.67,537.68 434.80,537.14 C436.94,536.61 439.13,536.21 441.33,535.86 C443.53,535.52 445.77,535.28 448.01,535.06 C450.25,534.84 452.52,534.70 454.78,534.55 C457.03,534.40 459.30,534.28 461.56,534.17 C463.81,534.05 466.07,533.94 468.32,533.86 C470.58,533.77 472.83,533.70 475.08,533.65 C477.33,533.60 479.58,533.58 481.83,533.58 C484.08,533.58 486.32,533.61 488.57,533.67 C490.81,533.73 493.05,533.83 495.29,533.96 C497.53,534.08 499.77,534.25 502.00,534.43 C504.24,534.62 506.48,534.83 508.71,535.06 C510.95,535.29 513.18,535.53 515.41,535.79 C517.65,536.04 519.88,536.30 522.11,536.56 C524.34,536.82 526.58,537.09 528.81,537.35 C531.04,537.60 533.28,537.85 535.51,538.09 C537.75,538.33 539.98,538.55 542.22,538.77 C544.45,538.99 546.69,539.20 548.93,539.40 C551.16,539.61 553.40,539.80 555.64,540.00 C557.87,540.20 560.11,540.39 562.35,540.59 C564.59,540.78 566.83,540.98 569.06,541.18 C571.30,541.38 573.54,541.57 575.78,541.77 C578.02,541.97 580.26,542.17 582.50,542.37 C584.73,542.57 586.97,542.77 589.21,542.96 C591.45,543.16 593.69,543.36 595.93,543.56 C598.17,543.75 600.41,543.95 602.65,544.14 C604.89,544.34 607.13,544.53 609.37,544.72 C611.61,544.91 613.85,545.10 616.09,545.29 C618.33,545.48 620.57,545.66 622.81,545.84 C625.05,546.02 627.29,546.20 629.54,546.38 C631.78,546.55 634.02,546.73 636.26,546.90 C638.50,547.07 640.75,547.23 642.99,547.39 C645.23,547.56 647.47,547.71 649.72,547.87 C651.96,548.02 654.20,548.17 656.45,548.31 C658.69,548.46 660.94,548.59 663.18,548.73 C665.42,548.86 667.67,548.99 669.91,549.11 C672.16,549.23 674.41,549.35 676.65,549.46 C678.90,549.57 681.14,549.68 683.39,549.78 C685.63,549.88 687.88,549.98 690.13,550.07 C692.37,550.16 694.62,550.25 696.87,550.34 C699.12,550.42 701.36,550.50 703.61,550.58 C705.86,550.65 708.11,550.72 710.36,550.79 C712.60,550.86 714.85,550.93 717.10,551.00 C719.35,551.06 721.60,551.12 723.85,551.18 C726.09,551.24 728.34,551.30 730.59,551.35 C732.84,551.41 735.09,551.46 737.34,551.51 C739.59,551.57 741.84,551.62 744.09,551.67 C746.34,551.72 748.58,551.77 750.83,551.81 C753.08,551.86 755.33,551.91 757.58,551.96 C759.83,552.01 762.08,552.06 764.33,552.10 C766.58,552.15 768.83,552.20 771.08,552.25 C773.33,552.30 775.58,552.35 777.83,552.40 C780.07,552.46 782.32,552.51 784.57,552.56 C786.82,552.62 789.07,552.68 791.32,552.73 C793.57,552.79 795.82,552.85 798.07,552.92 C800.32,552.98 802.56,553.05 804.81,553.12 C807.06,553.19 809.31,553.26 811.56,553.33 C813.80,553.41 817.18,553.53 818.30,553.57" fill="none" stroke="#b4b4b4" stroke-width="3.6" stroke-linejoin="round" stroke-linecap="round"/>
</g></g>
<rect x="157.8" y="518" width="134" height="67" fill="#fff"/>
<path d="M292.1,585.5 V517.5" fill="none" stroke="#c4c4c4" stroke-width="1"/>
<line x1="158" x2="292" y1="582.4" y2="582.4" stroke="#cdcdcd" stroke-width="1.2"/>
<line x1="156" x2="292.5" y1="517.4" y2="517.4" stroke="#808080" stroke-width="1.8"/>
<line x1="170.3" x2="196.2" y1="527.80" y2="527.80" stroke="#000000" stroke-width="5.4"/>
<text transform="translate(203.40,534.80) scale(1,1.03)" font-size="12.2" text-anchor="start" fill="#0b0b0b" >SS3000_60Hz</text>
<line x1="170.3" x2="196.2" y1="544.03" y2="544.03" stroke="#b4b4b4" stroke-width="5.4"/>
<text transform="translate(203.40,550.13) scale(1,1.03)" font-size="12.2" text-anchor="start" fill="#0b0b0b" >SS3000_50Hz</text>
<line x1="170.3" x2="196.2" y1="560.26" y2="560.26" stroke="#ff0207" stroke-width="5.4"/>
<text transform="translate(203.40,565.46) scale(1,1.03)" font-size="12.2" text-anchor="start" fill="#0b0b0b" >SS1500_60Hz</text>
<line x1="170.3" x2="196.2" y1="576.49" y2="576.49" stroke="#ff9a0a" stroke-width="5.4"/>
<text transform="translate(203.40,580.79) scale(1,1.03)" font-size="12.2" text-anchor="start" fill="#0b0b0b" >SS1500_50Hz</text>
<text transform="translate(144.40,912.40) scale(1,1.06)" font-size="13.33" text-anchor="end" fill="#0b0b0b" >0</text>
<text transform="translate(144.40,847.38) scale(1,1.06)" font-size="13.33" text-anchor="end" fill="#0b0b0b" >500</text>
<text transform="translate(144.40,782.37) scale(1,1.06)" font-size="13.33" text-anchor="end" fill="#0b0b0b" >1000</text>
<text transform="translate(144.40,717.35) scale(1,1.06)" font-size="13.33" text-anchor="end" fill="#0b0b0b" >1500</text>
<text transform="translate(144.40,652.33) scale(1,1.06)" font-size="13.33" text-anchor="end" fill="#0b0b0b" >2000</text>
<text transform="translate(144.40,587.32) scale(1,1.06)" font-size="13.33" text-anchor="end" fill="#0b0b0b" >2500</text>
<text transform="translate(144.40,522.30) scale(1,1.06)" font-size="13.33" text-anchor="end" fill="#0b0b0b" >3000</text>
<text transform="translate(96.5,791.5) rotate(-90) scale(1.068,1)" font-size="13.33" fill="#0b0b0b">Nominal Capacity(m3/hr)</text>
<text transform="translate(147.00,936.50) scale(1,1.06)" font-size="13.33" text-anchor="start" fill="#0b0b0b" >0.01 / 1.33</text>
<text transform="translate(271.70,936.50) scale(1,1.06)" font-size="13.33" text-anchor="start" fill="#0b0b0b" >0.1 / 13.33</text>
<text transform="translate(406.50,936.50) scale(1,1.06)" font-size="13.33" text-anchor="start" fill="#0b0b0b" >1 / 133</text>
<text transform="translate(527.00,936.50) scale(1,1.06)" font-size="13.33" text-anchor="start" fill="#0b0b0b" >10 / 1,333</text>
<text transform="translate(643.90,936.50) scale(1,1.06)" font-size="13.33" text-anchor="start" fill="#0b0b0b" >100 / 13,333</text>
<text transform="translate(733.00,936.50) scale(1,1.06)" font-size="13.33" text-anchor="start" fill="#0b0b0b" >760 / 101,325</text>
<text transform="translate(417.40,957.00) scale(1,1.06)" font-size="13.33" text-anchor="start" fill="#0b0b0b" >Pressure(Torr / Pa)</text>
<text transform="translate(317.40,976.30) scale(1,1.06)" font-size="12.43" text-anchor="start" fill="#fb0d1e" >Performance based on ambient condition, tolerance <tspan font-weight='normal' font-size='14'>±</tspan>10%</text>
</svg>
</body></html>
